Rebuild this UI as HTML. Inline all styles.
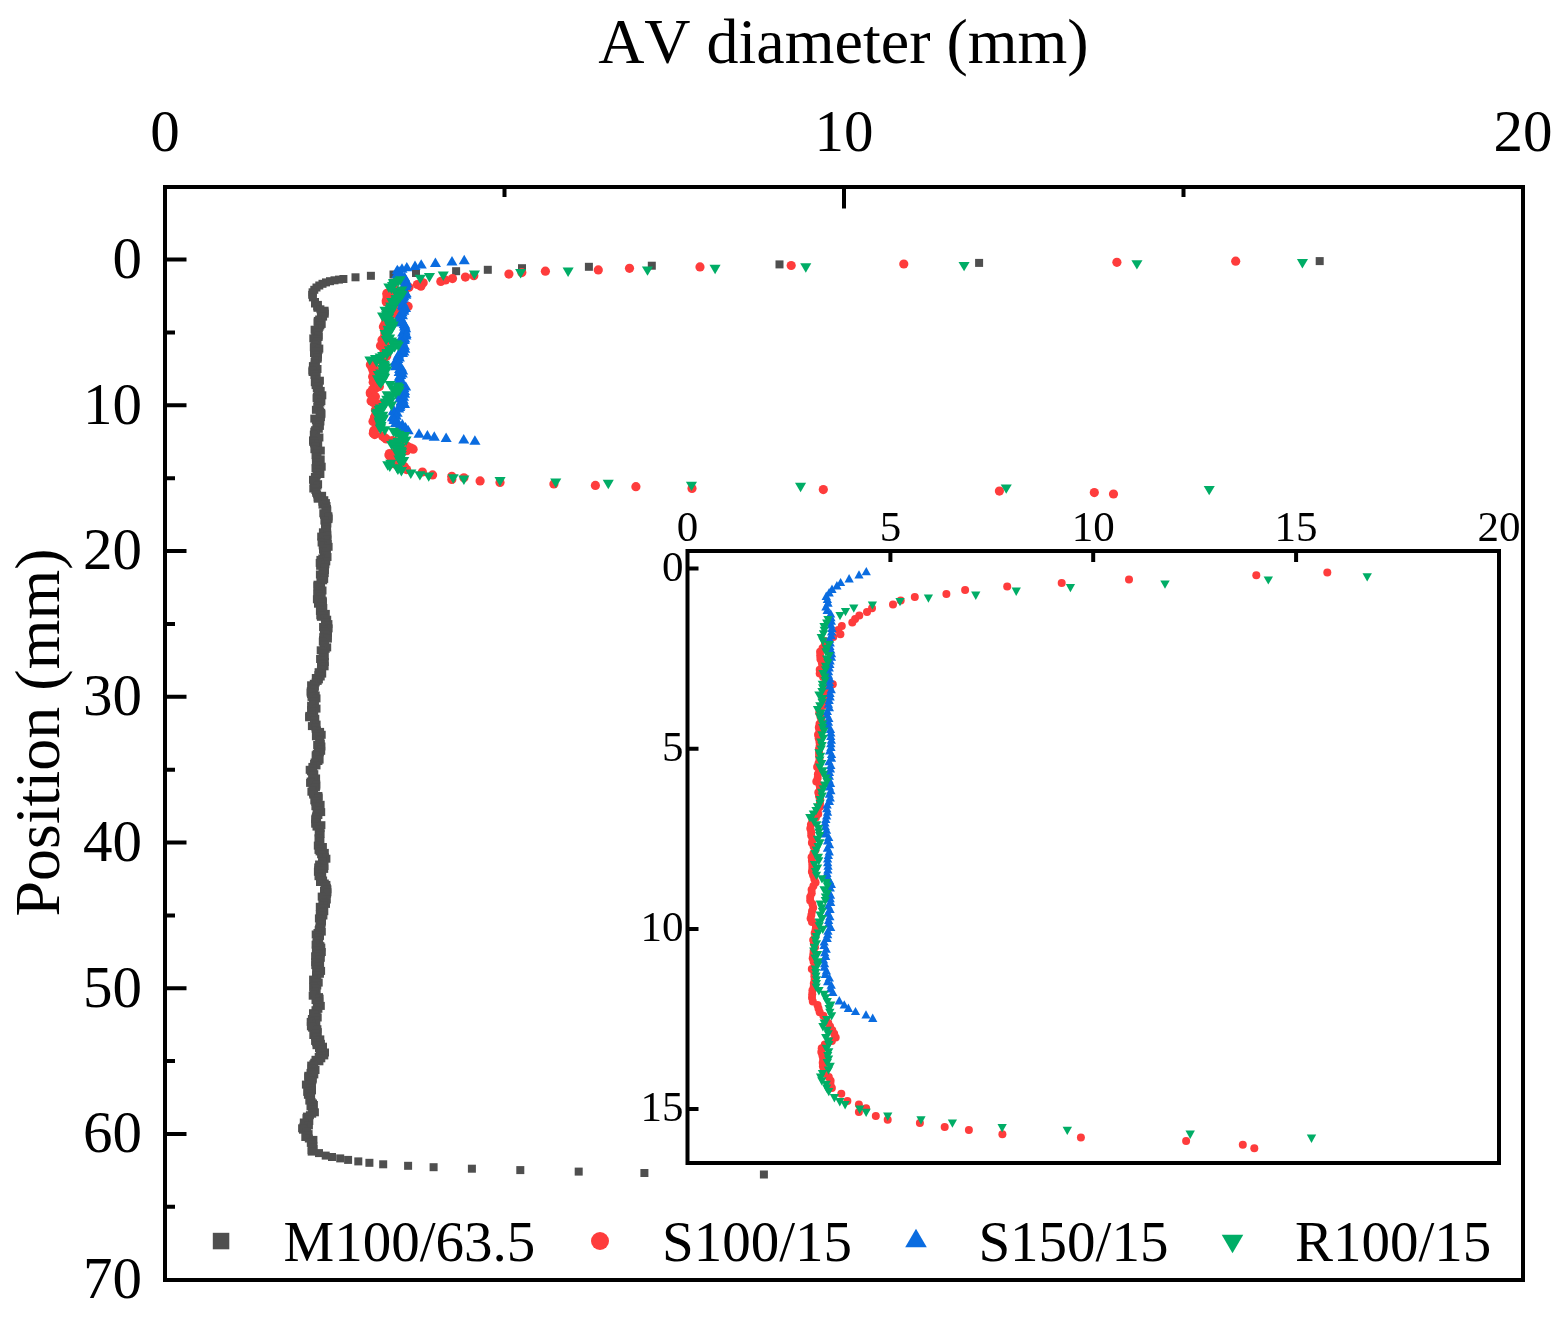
<!DOCTYPE html><html><head><meta charset="utf-8"><style>html,body{margin:0;padding:0;background:#fff;width:1567px;height:1318px;overflow:hidden}</style></head><body><svg width="1567" height="1318" viewBox="0 0 1567 1318" style="display:block">
<rect width="1567" height="1318" fill="#fff"/>
<rect x="165.0" y="187" width="1358.0" height="1093" fill="none" stroke="#000" stroke-width="4"/>
<path d="M504.5 187v10 M844.0 187v21.5 M1183.5 187v10 M165.0 259.6h21.5 M165.0 332.5h10 M165.0 405.3h21.5 M165.0 478.2h10 M165.0 551.1h21.5 M165.0 623.9h10 M165.0 696.8h21.5 M165.0 769.7h10 M165.0 842.5h21.5 M165.0 915.4h10 M165.0 988.2h21.5 M165.0 1061.1h10 M165.0 1134.0h21.5 M165.0 1206.8h10" stroke="#000" stroke-width="4" fill="none"/>
<g style="font-family:'Liberation Serif','Times New Roman',serif;font-kerning:none" font-size="59" fill="#000">
<text x="165.0" y="151" text-anchor="middle">0</text>
<text x="844.0" y="151" text-anchor="middle">10</text>
<text x="1523.0" y="151" text-anchor="middle">20</text>
<text x="142" y="277.8" text-anchor="end">0</text>
<text x="142" y="423.5" text-anchor="end">10</text>
<text x="142" y="569.3" text-anchor="end">20</text>
<text x="142" y="715.0" text-anchor="end">30</text>
<text x="142" y="860.7" text-anchor="end">40</text>
<text x="142" y="1006.5" text-anchor="end">50</text>
<text x="142" y="1152.2" text-anchor="end">60</text>
<text x="142" y="1297.9" text-anchor="end">70</text>
</g>
<text x="843.4" y="63" text-anchor="middle" style="font-family:'Liberation Serif','Times New Roman',serif;font-kerning:none" font-size="64">AV diameter (mm)</text>
<text transform="translate(59 732.5) rotate(-90)" text-anchor="middle" style="font-family:'Liberation Serif','Times New Roman',serif;font-kerning:none" font-size="64">Position (mm)</text>
<g>
<rect x="1315.7" y="257.1" width="8" height="8" fill="#4F4F4F"/>
<rect x="975.1" y="258.9" width="8" height="8" fill="#4F4F4F"/>
<rect x="775.5" y="260.4" width="8" height="8" fill="#4F4F4F"/>
<rect x="647.8" y="261.7" width="8" height="8" fill="#4F4F4F"/>
<rect x="584.9" y="262.8" width="8" height="8" fill="#4F4F4F"/>
<rect x="518.0" y="264.2" width="8" height="8" fill="#4F4F4F"/>
<rect x="483.8" y="265.8" width="8" height="8" fill="#4F4F4F"/>
<rect x="452.1" y="267.2" width="8" height="8" fill="#4F4F4F"/>
<rect x="412.0" y="269.0" width="8" height="8" fill="#4F4F4F"/>
<rect x="389.5" y="270.5" width="8" height="8" fill="#4F4F4F"/>
<rect x="366.9" y="271.8" width="8" height="8" fill="#4F4F4F"/>
<rect x="351.5" y="273.3" width="8" height="8" fill="#4F4F4F"/>
<rect x="339.4" y="275.0" width="8" height="8" fill="#4F4F4F"/>
<rect x="335.0" y="275.6" width="8" height="8" fill="#4F4F4F"/>
<rect x="330.5" y="276.3" width="8" height="8" fill="#4F4F4F"/>
<rect x="326.0" y="277.2" width="8" height="8" fill="#4F4F4F"/>
<rect x="322.0" y="278.4" width="8" height="8" fill="#4F4F4F"/>
<rect x="318.5" y="279.8" width="8" height="8" fill="#4F4F4F"/>
<rect x="315.3" y="281.5" width="8" height="8" fill="#4F4F4F"/>
<rect x="312.5" y="283.5" width="8" height="8" fill="#4F4F4F"/>
<rect x="310.3" y="285.8" width="8" height="8" fill="#4F4F4F"/>
<rect x="308.6" y="288.3" width="8" height="8" fill="#4F4F4F"/>
<rect x="308.2" y="290.8" width="8" height="8" fill="#4F4F4F"/>
<rect x="308.9" y="293.4" width="8" height="8" fill="#4F4F4F"/>
<rect x="311.0" y="298.0" width="8" height="8" fill="#4F4F4F"/>
<rect x="311.0" y="299.5" width="8" height="8" fill="#4F4F4F"/>
<rect x="313.9" y="300.9" width="8" height="8" fill="#4F4F4F"/>
<rect x="313.2" y="302.4" width="8" height="8" fill="#4F4F4F"/>
<rect x="313.5" y="303.8" width="8" height="8" fill="#4F4F4F"/>
<rect x="316.4" y="305.3" width="8" height="8" fill="#4F4F4F"/>
<rect x="320.6" y="306.7" width="8" height="8" fill="#4F4F4F"/>
<rect x="320.4" y="308.2" width="8" height="8" fill="#4F4F4F"/>
<rect x="320.7" y="309.7" width="8" height="8" fill="#4F4F4F"/>
<rect x="317.0" y="311.1" width="8" height="8" fill="#4F4F4F"/>
<rect x="319.1" y="312.6" width="8" height="8" fill="#4F4F4F"/>
<rect x="316.9" y="314.0" width="8" height="8" fill="#4F4F4F"/>
<rect x="315.2" y="315.5" width="8" height="8" fill="#4F4F4F"/>
<rect x="313.8" y="316.9" width="8" height="8" fill="#4F4F4F"/>
<rect x="313.6" y="318.4" width="8" height="8" fill="#4F4F4F"/>
<rect x="317.7" y="319.9" width="8" height="8" fill="#4F4F4F"/>
<rect x="316.4" y="321.3" width="8" height="8" fill="#4F4F4F"/>
<rect x="315.5" y="322.8" width="8" height="8" fill="#4F4F4F"/>
<rect x="314.8" y="324.2" width="8" height="8" fill="#4F4F4F"/>
<rect x="310.6" y="325.7" width="8" height="8" fill="#4F4F4F"/>
<rect x="311.2" y="327.1" width="8" height="8" fill="#4F4F4F"/>
<rect x="313.3" y="328.6" width="8" height="8" fill="#4F4F4F"/>
<rect x="313.8" y="330.1" width="8" height="8" fill="#4F4F4F"/>
<rect x="314.6" y="331.5" width="8" height="8" fill="#4F4F4F"/>
<rect x="314.6" y="333.0" width="8" height="8" fill="#4F4F4F"/>
<rect x="309.3" y="334.4" width="8" height="8" fill="#4F4F4F"/>
<rect x="313.0" y="335.9" width="8" height="8" fill="#4F4F4F"/>
<rect x="313.5" y="337.3" width="8" height="8" fill="#4F4F4F"/>
<rect x="312.5" y="338.8" width="8" height="8" fill="#4F4F4F"/>
<rect x="310.4" y="340.3" width="8" height="8" fill="#4F4F4F"/>
<rect x="312.6" y="341.7" width="8" height="8" fill="#4F4F4F"/>
<rect x="309.8" y="343.2" width="8" height="8" fill="#4F4F4F"/>
<rect x="315.3" y="344.6" width="8" height="8" fill="#4F4F4F"/>
<rect x="314.5" y="346.1" width="8" height="8" fill="#4F4F4F"/>
<rect x="312.0" y="347.5" width="8" height="8" fill="#4F4F4F"/>
<rect x="310.0" y="349.0" width="8" height="8" fill="#4F4F4F"/>
<rect x="314.0" y="350.5" width="8" height="8" fill="#4F4F4F"/>
<rect x="311.7" y="351.9" width="8" height="8" fill="#4F4F4F"/>
<rect x="313.8" y="353.4" width="8" height="8" fill="#4F4F4F"/>
<rect x="313.6" y="354.8" width="8" height="8" fill="#4F4F4F"/>
<rect x="311.3" y="356.3" width="8" height="8" fill="#4F4F4F"/>
<rect x="310.6" y="357.7" width="8" height="8" fill="#4F4F4F"/>
<rect x="311.9" y="359.2" width="8" height="8" fill="#4F4F4F"/>
<rect x="310.7" y="360.7" width="8" height="8" fill="#4F4F4F"/>
<rect x="308.9" y="362.1" width="8" height="8" fill="#4F4F4F"/>
<rect x="309.9" y="363.6" width="8" height="8" fill="#4F4F4F"/>
<rect x="313.5" y="365.0" width="8" height="8" fill="#4F4F4F"/>
<rect x="308.4" y="366.5" width="8" height="8" fill="#4F4F4F"/>
<rect x="308.6" y="368.0" width="8" height="8" fill="#4F4F4F"/>
<rect x="312.6" y="369.4" width="8" height="8" fill="#4F4F4F"/>
<rect x="310.4" y="370.9" width="8" height="8" fill="#4F4F4F"/>
<rect x="312.2" y="372.3" width="8" height="8" fill="#4F4F4F"/>
<rect x="311.9" y="373.8" width="8" height="8" fill="#4F4F4F"/>
<rect x="311.2" y="375.2" width="8" height="8" fill="#4F4F4F"/>
<rect x="315.9" y="376.7" width="8" height="8" fill="#4F4F4F"/>
<rect x="310.8" y="378.2" width="8" height="8" fill="#4F4F4F"/>
<rect x="312.6" y="379.6" width="8" height="8" fill="#4F4F4F"/>
<rect x="311.6" y="381.1" width="8" height="8" fill="#4F4F4F"/>
<rect x="314.9" y="382.5" width="8" height="8" fill="#4F4F4F"/>
<rect x="312.8" y="384.0" width="8" height="8" fill="#4F4F4F"/>
<rect x="313.7" y="385.4" width="8" height="8" fill="#4F4F4F"/>
<rect x="316.7" y="386.9" width="8" height="8" fill="#4F4F4F"/>
<rect x="314.2" y="388.4" width="8" height="8" fill="#4F4F4F"/>
<rect x="316.0" y="389.8" width="8" height="8" fill="#4F4F4F"/>
<rect x="318.3" y="391.3" width="8" height="8" fill="#4F4F4F"/>
<rect x="312.9" y="392.7" width="8" height="8" fill="#4F4F4F"/>
<rect x="312.6" y="394.2" width="8" height="8" fill="#4F4F4F"/>
<rect x="313.8" y="395.6" width="8" height="8" fill="#4F4F4F"/>
<rect x="317.4" y="397.1" width="8" height="8" fill="#4F4F4F"/>
<rect x="316.4" y="398.6" width="8" height="8" fill="#4F4F4F"/>
<rect x="313.8" y="400.0" width="8" height="8" fill="#4F4F4F"/>
<rect x="314.5" y="401.5" width="8" height="8" fill="#4F4F4F"/>
<rect x="313.3" y="402.9" width="8" height="8" fill="#4F4F4F"/>
<rect x="315.0" y="404.4" width="8" height="8" fill="#4F4F4F"/>
<rect x="311.9" y="405.8" width="8" height="8" fill="#4F4F4F"/>
<rect x="316.1" y="407.3" width="8" height="8" fill="#4F4F4F"/>
<rect x="317.2" y="408.8" width="8" height="8" fill="#4F4F4F"/>
<rect x="317.4" y="410.2" width="8" height="8" fill="#4F4F4F"/>
<rect x="315.6" y="411.7" width="8" height="8" fill="#4F4F4F"/>
<rect x="316.9" y="413.1" width="8" height="8" fill="#4F4F4F"/>
<rect x="310.3" y="414.6" width="8" height="8" fill="#4F4F4F"/>
<rect x="311.9" y="416.0" width="8" height="8" fill="#4F4F4F"/>
<rect x="316.4" y="417.5" width="8" height="8" fill="#4F4F4F"/>
<rect x="315.0" y="419.0" width="8" height="8" fill="#4F4F4F"/>
<rect x="312.4" y="420.4" width="8" height="8" fill="#4F4F4F"/>
<rect x="315.9" y="421.9" width="8" height="8" fill="#4F4F4F"/>
<rect x="313.6" y="423.3" width="8" height="8" fill="#4F4F4F"/>
<rect x="314.8" y="424.8" width="8" height="8" fill="#4F4F4F"/>
<rect x="311.1" y="426.2" width="8" height="8" fill="#4F4F4F"/>
<rect x="310.3" y="427.7" width="8" height="8" fill="#4F4F4F"/>
<rect x="311.9" y="429.2" width="8" height="8" fill="#4F4F4F"/>
<rect x="309.8" y="430.6" width="8" height="8" fill="#4F4F4F"/>
<rect x="311.5" y="432.1" width="8" height="8" fill="#4F4F4F"/>
<rect x="315.4" y="433.5" width="8" height="8" fill="#4F4F4F"/>
<rect x="311.2" y="435.0" width="8" height="8" fill="#4F4F4F"/>
<rect x="309.0" y="436.4" width="8" height="8" fill="#4F4F4F"/>
<rect x="309.2" y="437.9" width="8" height="8" fill="#4F4F4F"/>
<rect x="310.1" y="439.4" width="8" height="8" fill="#4F4F4F"/>
<rect x="314.2" y="440.8" width="8" height="8" fill="#4F4F4F"/>
<rect x="311.5" y="442.3" width="8" height="8" fill="#4F4F4F"/>
<rect x="311.4" y="443.7" width="8" height="8" fill="#4F4F4F"/>
<rect x="310.4" y="445.2" width="8" height="8" fill="#4F4F4F"/>
<rect x="316.8" y="446.6" width="8" height="8" fill="#4F4F4F"/>
<rect x="313.4" y="448.1" width="8" height="8" fill="#4F4F4F"/>
<rect x="312.3" y="449.6" width="8" height="8" fill="#4F4F4F"/>
<rect x="311.6" y="451.0" width="8" height="8" fill="#4F4F4F"/>
<rect x="311.9" y="452.5" width="8" height="8" fill="#4F4F4F"/>
<rect x="313.1" y="453.9" width="8" height="8" fill="#4F4F4F"/>
<rect x="316.7" y="455.4" width="8" height="8" fill="#4F4F4F"/>
<rect x="312.9" y="456.8" width="8" height="8" fill="#4F4F4F"/>
<rect x="311.9" y="458.3" width="8" height="8" fill="#4F4F4F"/>
<rect x="314.7" y="459.8" width="8" height="8" fill="#4F4F4F"/>
<rect x="312.9" y="461.2" width="8" height="8" fill="#4F4F4F"/>
<rect x="317.7" y="462.7" width="8" height="8" fill="#4F4F4F"/>
<rect x="311.5" y="464.1" width="8" height="8" fill="#4F4F4F"/>
<rect x="314.0" y="465.6" width="8" height="8" fill="#4F4F4F"/>
<rect x="315.5" y="467.0" width="8" height="8" fill="#4F4F4F"/>
<rect x="312.7" y="468.5" width="8" height="8" fill="#4F4F4F"/>
<rect x="316.4" y="470.0" width="8" height="8" fill="#4F4F4F"/>
<rect x="312.7" y="471.4" width="8" height="8" fill="#4F4F4F"/>
<rect x="310.9" y="472.9" width="8" height="8" fill="#4F4F4F"/>
<rect x="311.8" y="474.3" width="8" height="8" fill="#4F4F4F"/>
<rect x="309.0" y="475.8" width="8" height="8" fill="#4F4F4F"/>
<rect x="311.4" y="477.2" width="8" height="8" fill="#4F4F4F"/>
<rect x="309.9" y="478.7" width="8" height="8" fill="#4F4F4F"/>
<rect x="314.1" y="480.2" width="8" height="8" fill="#4F4F4F"/>
<rect x="313.5" y="481.6" width="8" height="8" fill="#4F4F4F"/>
<rect x="311.9" y="483.1" width="8" height="8" fill="#4F4F4F"/>
<rect x="309.3" y="484.5" width="8" height="8" fill="#4F4F4F"/>
<rect x="311.4" y="486.0" width="8" height="8" fill="#4F4F4F"/>
<rect x="312.0" y="487.4" width="8" height="8" fill="#4F4F4F"/>
<rect x="312.3" y="488.9" width="8" height="8" fill="#4F4F4F"/>
<rect x="313.1" y="490.4" width="8" height="8" fill="#4F4F4F"/>
<rect x="318.1" y="491.8" width="8" height="8" fill="#4F4F4F"/>
<rect x="313.7" y="493.3" width="8" height="8" fill="#4F4F4F"/>
<rect x="313.7" y="494.7" width="8" height="8" fill="#4F4F4F"/>
<rect x="320.3" y="496.2" width="8" height="8" fill="#4F4F4F"/>
<rect x="318.4" y="497.7" width="8" height="8" fill="#4F4F4F"/>
<rect x="321.9" y="499.1" width="8" height="8" fill="#4F4F4F"/>
<rect x="318.5" y="500.6" width="8" height="8" fill="#4F4F4F"/>
<rect x="322.5" y="502.0" width="8" height="8" fill="#4F4F4F"/>
<rect x="321.4" y="503.5" width="8" height="8" fill="#4F4F4F"/>
<rect x="323.0" y="504.9" width="8" height="8" fill="#4F4F4F"/>
<rect x="323.3" y="506.4" width="8" height="8" fill="#4F4F4F"/>
<rect x="322.2" y="507.9" width="8" height="8" fill="#4F4F4F"/>
<rect x="319.3" y="509.3" width="8" height="8" fill="#4F4F4F"/>
<rect x="320.0" y="510.8" width="8" height="8" fill="#4F4F4F"/>
<rect x="324.4" y="512.2" width="8" height="8" fill="#4F4F4F"/>
<rect x="324.4" y="513.7" width="8" height="8" fill="#4F4F4F"/>
<rect x="324.5" y="515.1" width="8" height="8" fill="#4F4F4F"/>
<rect x="320.4" y="516.6" width="8" height="8" fill="#4F4F4F"/>
<rect x="322.4" y="518.1" width="8" height="8" fill="#4F4F4F"/>
<rect x="323.3" y="519.5" width="8" height="8" fill="#4F4F4F"/>
<rect x="322.1" y="521.0" width="8" height="8" fill="#4F4F4F"/>
<rect x="323.1" y="522.4" width="8" height="8" fill="#4F4F4F"/>
<rect x="321.0" y="523.9" width="8" height="8" fill="#4F4F4F"/>
<rect x="321.8" y="525.3" width="8" height="8" fill="#4F4F4F"/>
<rect x="321.9" y="526.8" width="8" height="8" fill="#4F4F4F"/>
<rect x="318.9" y="528.3" width="8" height="8" fill="#4F4F4F"/>
<rect x="323.2" y="529.7" width="8" height="8" fill="#4F4F4F"/>
<rect x="323.3" y="531.2" width="8" height="8" fill="#4F4F4F"/>
<rect x="317.2" y="532.6" width="8" height="8" fill="#4F4F4F"/>
<rect x="323.2" y="534.1" width="8" height="8" fill="#4F4F4F"/>
<rect x="323.4" y="535.5" width="8" height="8" fill="#4F4F4F"/>
<rect x="321.6" y="537.0" width="8" height="8" fill="#4F4F4F"/>
<rect x="317.6" y="538.5" width="8" height="8" fill="#4F4F4F"/>
<rect x="323.7" y="539.9" width="8" height="8" fill="#4F4F4F"/>
<rect x="318.7" y="541.4" width="8" height="8" fill="#4F4F4F"/>
<rect x="324.6" y="542.8" width="8" height="8" fill="#4F4F4F"/>
<rect x="322.8" y="544.3" width="8" height="8" fill="#4F4F4F"/>
<rect x="319.0" y="545.7" width="8" height="8" fill="#4F4F4F"/>
<rect x="319.9" y="547.2" width="8" height="8" fill="#4F4F4F"/>
<rect x="322.7" y="548.7" width="8" height="8" fill="#4F4F4F"/>
<rect x="321.9" y="550.1" width="8" height="8" fill="#4F4F4F"/>
<rect x="322.7" y="551.6" width="8" height="8" fill="#4F4F4F"/>
<rect x="323.5" y="553.0" width="8" height="8" fill="#4F4F4F"/>
<rect x="318.3" y="554.5" width="8" height="8" fill="#4F4F4F"/>
<rect x="316.4" y="555.9" width="8" height="8" fill="#4F4F4F"/>
<rect x="322.3" y="557.4" width="8" height="8" fill="#4F4F4F"/>
<rect x="315.7" y="558.9" width="8" height="8" fill="#4F4F4F"/>
<rect x="321.4" y="560.3" width="8" height="8" fill="#4F4F4F"/>
<rect x="316.1" y="561.8" width="8" height="8" fill="#4F4F4F"/>
<rect x="320.7" y="563.2" width="8" height="8" fill="#4F4F4F"/>
<rect x="320.4" y="564.7" width="8" height="8" fill="#4F4F4F"/>
<rect x="320.9" y="566.1" width="8" height="8" fill="#4F4F4F"/>
<rect x="318.5" y="567.6" width="8" height="8" fill="#4F4F4F"/>
<rect x="320.7" y="569.1" width="8" height="8" fill="#4F4F4F"/>
<rect x="315.9" y="570.5" width="8" height="8" fill="#4F4F4F"/>
<rect x="319.0" y="572.0" width="8" height="8" fill="#4F4F4F"/>
<rect x="316.5" y="573.4" width="8" height="8" fill="#4F4F4F"/>
<rect x="320.2" y="574.9" width="8" height="8" fill="#4F4F4F"/>
<rect x="319.2" y="576.3" width="8" height="8" fill="#4F4F4F"/>
<rect x="316.9" y="577.8" width="8" height="8" fill="#4F4F4F"/>
<rect x="317.1" y="579.3" width="8" height="8" fill="#4F4F4F"/>
<rect x="313.5" y="580.7" width="8" height="8" fill="#4F4F4F"/>
<rect x="313.4" y="582.2" width="8" height="8" fill="#4F4F4F"/>
<rect x="317.0" y="583.6" width="8" height="8" fill="#4F4F4F"/>
<rect x="316.1" y="585.1" width="8" height="8" fill="#4F4F4F"/>
<rect x="318.5" y="586.5" width="8" height="8" fill="#4F4F4F"/>
<rect x="316.6" y="588.0" width="8" height="8" fill="#4F4F4F"/>
<rect x="313.2" y="589.5" width="8" height="8" fill="#4F4F4F"/>
<rect x="314.8" y="590.9" width="8" height="8" fill="#4F4F4F"/>
<rect x="317.7" y="592.4" width="8" height="8" fill="#4F4F4F"/>
<rect x="316.2" y="593.8" width="8" height="8" fill="#4F4F4F"/>
<rect x="312.9" y="595.3" width="8" height="8" fill="#4F4F4F"/>
<rect x="318.7" y="596.7" width="8" height="8" fill="#4F4F4F"/>
<rect x="318.9" y="598.2" width="8" height="8" fill="#4F4F4F"/>
<rect x="314.0" y="599.7" width="8" height="8" fill="#4F4F4F"/>
<rect x="317.3" y="601.1" width="8" height="8" fill="#4F4F4F"/>
<rect x="316.4" y="602.6" width="8" height="8" fill="#4F4F4F"/>
<rect x="319.3" y="604.0" width="8" height="8" fill="#4F4F4F"/>
<rect x="316.3" y="605.5" width="8" height="8" fill="#4F4F4F"/>
<rect x="315.9" y="606.9" width="8" height="8" fill="#4F4F4F"/>
<rect x="318.0" y="608.4" width="8" height="8" fill="#4F4F4F"/>
<rect x="321.8" y="609.9" width="8" height="8" fill="#4F4F4F"/>
<rect x="316.3" y="611.3" width="8" height="8" fill="#4F4F4F"/>
<rect x="316.9" y="612.8" width="8" height="8" fill="#4F4F4F"/>
<rect x="320.9" y="614.2" width="8" height="8" fill="#4F4F4F"/>
<rect x="323.2" y="615.7" width="8" height="8" fill="#4F4F4F"/>
<rect x="321.1" y="617.1" width="8" height="8" fill="#4F4F4F"/>
<rect x="321.1" y="618.6" width="8" height="8" fill="#4F4F4F"/>
<rect x="324.4" y="620.1" width="8" height="8" fill="#4F4F4F"/>
<rect x="324.0" y="621.5" width="8" height="8" fill="#4F4F4F"/>
<rect x="319.1" y="623.0" width="8" height="8" fill="#4F4F4F"/>
<rect x="324.6" y="624.4" width="8" height="8" fill="#4F4F4F"/>
<rect x="319.8" y="625.9" width="8" height="8" fill="#4F4F4F"/>
<rect x="320.4" y="627.3" width="8" height="8" fill="#4F4F4F"/>
<rect x="324.0" y="628.8" width="8" height="8" fill="#4F4F4F"/>
<rect x="321.1" y="630.3" width="8" height="8" fill="#4F4F4F"/>
<rect x="323.5" y="631.7" width="8" height="8" fill="#4F4F4F"/>
<rect x="319.2" y="633.2" width="8" height="8" fill="#4F4F4F"/>
<rect x="323.9" y="634.6" width="8" height="8" fill="#4F4F4F"/>
<rect x="319.0" y="636.1" width="8" height="8" fill="#4F4F4F"/>
<rect x="318.8" y="637.6" width="8" height="8" fill="#4F4F4F"/>
<rect x="321.0" y="639.0" width="8" height="8" fill="#4F4F4F"/>
<rect x="319.7" y="640.5" width="8" height="8" fill="#4F4F4F"/>
<rect x="320.9" y="641.9" width="8" height="8" fill="#4F4F4F"/>
<rect x="323.2" y="643.4" width="8" height="8" fill="#4F4F4F"/>
<rect x="321.7" y="644.8" width="8" height="8" fill="#4F4F4F"/>
<rect x="316.7" y="646.3" width="8" height="8" fill="#4F4F4F"/>
<rect x="318.6" y="647.8" width="8" height="8" fill="#4F4F4F"/>
<rect x="320.0" y="649.2" width="8" height="8" fill="#4F4F4F"/>
<rect x="319.5" y="650.7" width="8" height="8" fill="#4F4F4F"/>
<rect x="320.8" y="652.1" width="8" height="8" fill="#4F4F4F"/>
<rect x="319.1" y="653.6" width="8" height="8" fill="#4F4F4F"/>
<rect x="316.1" y="655.0" width="8" height="8" fill="#4F4F4F"/>
<rect x="317.0" y="656.5" width="8" height="8" fill="#4F4F4F"/>
<rect x="320.8" y="658.0" width="8" height="8" fill="#4F4F4F"/>
<rect x="317.0" y="659.4" width="8" height="8" fill="#4F4F4F"/>
<rect x="319.5" y="660.9" width="8" height="8" fill="#4F4F4F"/>
<rect x="320.6" y="662.3" width="8" height="8" fill="#4F4F4F"/>
<rect x="317.8" y="663.8" width="8" height="8" fill="#4F4F4F"/>
<rect x="317.8" y="665.2" width="8" height="8" fill="#4F4F4F"/>
<rect x="316.9" y="666.7" width="8" height="8" fill="#4F4F4F"/>
<rect x="314.6" y="668.2" width="8" height="8" fill="#4F4F4F"/>
<rect x="318.2" y="669.6" width="8" height="8" fill="#4F4F4F"/>
<rect x="314.4" y="671.1" width="8" height="8" fill="#4F4F4F"/>
<rect x="316.7" y="672.5" width="8" height="8" fill="#4F4F4F"/>
<rect x="311.8" y="674.0" width="8" height="8" fill="#4F4F4F"/>
<rect x="314.9" y="675.4" width="8" height="8" fill="#4F4F4F"/>
<rect x="313.7" y="676.9" width="8" height="8" fill="#4F4F4F"/>
<rect x="311.7" y="678.4" width="8" height="8" fill="#4F4F4F"/>
<rect x="309.8" y="679.8" width="8" height="8" fill="#4F4F4F"/>
<rect x="307.1" y="681.3" width="8" height="8" fill="#4F4F4F"/>
<rect x="310.9" y="682.7" width="8" height="8" fill="#4F4F4F"/>
<rect x="308.2" y="684.2" width="8" height="8" fill="#4F4F4F"/>
<rect x="310.3" y="685.6" width="8" height="8" fill="#4F4F4F"/>
<rect x="306.8" y="687.1" width="8" height="8" fill="#4F4F4F"/>
<rect x="306.6" y="688.6" width="8" height="8" fill="#4F4F4F"/>
<rect x="307.1" y="690.0" width="8" height="8" fill="#4F4F4F"/>
<rect x="311.7" y="691.5" width="8" height="8" fill="#4F4F4F"/>
<rect x="307.5" y="692.9" width="8" height="8" fill="#4F4F4F"/>
<rect x="312.5" y="694.4" width="8" height="8" fill="#4F4F4F"/>
<rect x="309.0" y="695.8" width="8" height="8" fill="#4F4F4F"/>
<rect x="310.5" y="697.3" width="8" height="8" fill="#4F4F4F"/>
<rect x="309.0" y="698.8" width="8" height="8" fill="#4F4F4F"/>
<rect x="310.9" y="700.2" width="8" height="8" fill="#4F4F4F"/>
<rect x="307.1" y="701.7" width="8" height="8" fill="#4F4F4F"/>
<rect x="309.0" y="703.1" width="8" height="8" fill="#4F4F4F"/>
<rect x="312.5" y="704.6" width="8" height="8" fill="#4F4F4F"/>
<rect x="307.1" y="706.0" width="8" height="8" fill="#4F4F4F"/>
<rect x="310.2" y="707.5" width="8" height="8" fill="#4F4F4F"/>
<rect x="307.8" y="709.0" width="8" height="8" fill="#4F4F4F"/>
<rect x="307.4" y="710.4" width="8" height="8" fill="#4F4F4F"/>
<rect x="305.3" y="711.9" width="8" height="8" fill="#4F4F4F"/>
<rect x="305.1" y="713.3" width="8" height="8" fill="#4F4F4F"/>
<rect x="311.3" y="714.8" width="8" height="8" fill="#4F4F4F"/>
<rect x="310.3" y="716.2" width="8" height="8" fill="#4F4F4F"/>
<rect x="310.1" y="717.7" width="8" height="8" fill="#4F4F4F"/>
<rect x="310.9" y="719.2" width="8" height="8" fill="#4F4F4F"/>
<rect x="312.6" y="720.6" width="8" height="8" fill="#4F4F4F"/>
<rect x="307.9" y="722.1" width="8" height="8" fill="#4F4F4F"/>
<rect x="311.5" y="723.5" width="8" height="8" fill="#4F4F4F"/>
<rect x="311.7" y="725.0" width="8" height="8" fill="#4F4F4F"/>
<rect x="312.9" y="726.4" width="8" height="8" fill="#4F4F4F"/>
<rect x="316.1" y="727.9" width="8" height="8" fill="#4F4F4F"/>
<rect x="315.7" y="729.4" width="8" height="8" fill="#4F4F4F"/>
<rect x="317.7" y="730.8" width="8" height="8" fill="#4F4F4F"/>
<rect x="311.9" y="732.3" width="8" height="8" fill="#4F4F4F"/>
<rect x="315.5" y="733.7" width="8" height="8" fill="#4F4F4F"/>
<rect x="315.7" y="735.2" width="8" height="8" fill="#4F4F4F"/>
<rect x="316.2" y="736.6" width="8" height="8" fill="#4F4F4F"/>
<rect x="315.3" y="738.1" width="8" height="8" fill="#4F4F4F"/>
<rect x="316.8" y="739.6" width="8" height="8" fill="#4F4F4F"/>
<rect x="313.2" y="741.0" width="8" height="8" fill="#4F4F4F"/>
<rect x="317.4" y="742.5" width="8" height="8" fill="#4F4F4F"/>
<rect x="313.9" y="743.9" width="8" height="8" fill="#4F4F4F"/>
<rect x="315.2" y="745.4" width="8" height="8" fill="#4F4F4F"/>
<rect x="317.2" y="746.8" width="8" height="8" fill="#4F4F4F"/>
<rect x="315.9" y="748.3" width="8" height="8" fill="#4F4F4F"/>
<rect x="312.7" y="749.8" width="8" height="8" fill="#4F4F4F"/>
<rect x="311.7" y="751.2" width="8" height="8" fill="#4F4F4F"/>
<rect x="311.9" y="752.7" width="8" height="8" fill="#4F4F4F"/>
<rect x="313.5" y="754.1" width="8" height="8" fill="#4F4F4F"/>
<rect x="315.6" y="755.6" width="8" height="8" fill="#4F4F4F"/>
<rect x="314.4" y="757.0" width="8" height="8" fill="#4F4F4F"/>
<rect x="310.6" y="758.5" width="8" height="8" fill="#4F4F4F"/>
<rect x="310.1" y="760.0" width="8" height="8" fill="#4F4F4F"/>
<rect x="312.5" y="761.4" width="8" height="8" fill="#4F4F4F"/>
<rect x="308.4" y="762.9" width="8" height="8" fill="#4F4F4F"/>
<rect x="308.9" y="764.3" width="8" height="8" fill="#4F4F4F"/>
<rect x="305.7" y="765.8" width="8" height="8" fill="#4F4F4F"/>
<rect x="306.9" y="767.3" width="8" height="8" fill="#4F4F4F"/>
<rect x="309.3" y="768.7" width="8" height="8" fill="#4F4F4F"/>
<rect x="310.3" y="770.2" width="8" height="8" fill="#4F4F4F"/>
<rect x="309.8" y="771.6" width="8" height="8" fill="#4F4F4F"/>
<rect x="308.1" y="773.1" width="8" height="8" fill="#4F4F4F"/>
<rect x="312.1" y="774.5" width="8" height="8" fill="#4F4F4F"/>
<rect x="309.8" y="776.0" width="8" height="8" fill="#4F4F4F"/>
<rect x="306.7" y="777.5" width="8" height="8" fill="#4F4F4F"/>
<rect x="306.1" y="778.9" width="8" height="8" fill="#4F4F4F"/>
<rect x="312.2" y="780.4" width="8" height="8" fill="#4F4F4F"/>
<rect x="312.3" y="781.8" width="8" height="8" fill="#4F4F4F"/>
<rect x="311.9" y="783.3" width="8" height="8" fill="#4F4F4F"/>
<rect x="310.1" y="784.7" width="8" height="8" fill="#4F4F4F"/>
<rect x="308.5" y="786.2" width="8" height="8" fill="#4F4F4F"/>
<rect x="307.4" y="787.7" width="8" height="8" fill="#4F4F4F"/>
<rect x="309.0" y="789.1" width="8" height="8" fill="#4F4F4F"/>
<rect x="309.2" y="790.6" width="8" height="8" fill="#4F4F4F"/>
<rect x="314.4" y="792.0" width="8" height="8" fill="#4F4F4F"/>
<rect x="314.6" y="793.5" width="8" height="8" fill="#4F4F4F"/>
<rect x="314.2" y="794.9" width="8" height="8" fill="#4F4F4F"/>
<rect x="310.3" y="796.4" width="8" height="8" fill="#4F4F4F"/>
<rect x="311.4" y="797.9" width="8" height="8" fill="#4F4F4F"/>
<rect x="312.1" y="799.3" width="8" height="8" fill="#4F4F4F"/>
<rect x="316.6" y="800.8" width="8" height="8" fill="#4F4F4F"/>
<rect x="311.4" y="802.2" width="8" height="8" fill="#4F4F4F"/>
<rect x="315.7" y="803.7" width="8" height="8" fill="#4F4F4F"/>
<rect x="315.1" y="805.1" width="8" height="8" fill="#4F4F4F"/>
<rect x="314.3" y="806.6" width="8" height="8" fill="#4F4F4F"/>
<rect x="317.2" y="808.1" width="8" height="8" fill="#4F4F4F"/>
<rect x="312.6" y="809.5" width="8" height="8" fill="#4F4F4F"/>
<rect x="314.4" y="811.0" width="8" height="8" fill="#4F4F4F"/>
<rect x="312.1" y="812.4" width="8" height="8" fill="#4F4F4F"/>
<rect x="311.7" y="813.9" width="8" height="8" fill="#4F4F4F"/>
<rect x="311.2" y="815.3" width="8" height="8" fill="#4F4F4F"/>
<rect x="313.1" y="816.8" width="8" height="8" fill="#4F4F4F"/>
<rect x="311.7" y="818.3" width="8" height="8" fill="#4F4F4F"/>
<rect x="311.2" y="819.7" width="8" height="8" fill="#4F4F4F"/>
<rect x="317.4" y="821.2" width="8" height="8" fill="#4F4F4F"/>
<rect x="312.5" y="822.6" width="8" height="8" fill="#4F4F4F"/>
<rect x="316.5" y="824.1" width="8" height="8" fill="#4F4F4F"/>
<rect x="315.2" y="825.5" width="8" height="8" fill="#4F4F4F"/>
<rect x="315.3" y="827.0" width="8" height="8" fill="#4F4F4F"/>
<rect x="314.7" y="828.5" width="8" height="8" fill="#4F4F4F"/>
<rect x="316.6" y="829.9" width="8" height="8" fill="#4F4F4F"/>
<rect x="316.0" y="831.4" width="8" height="8" fill="#4F4F4F"/>
<rect x="315.2" y="832.8" width="8" height="8" fill="#4F4F4F"/>
<rect x="314.5" y="834.3" width="8" height="8" fill="#4F4F4F"/>
<rect x="315.8" y="835.7" width="8" height="8" fill="#4F4F4F"/>
<rect x="316.4" y="837.2" width="8" height="8" fill="#4F4F4F"/>
<rect x="315.7" y="838.7" width="8" height="8" fill="#4F4F4F"/>
<rect x="315.8" y="840.1" width="8" height="8" fill="#4F4F4F"/>
<rect x="313.8" y="841.6" width="8" height="8" fill="#4F4F4F"/>
<rect x="318.9" y="843.0" width="8" height="8" fill="#4F4F4F"/>
<rect x="316.9" y="844.5" width="8" height="8" fill="#4F4F4F"/>
<rect x="314.5" y="845.9" width="8" height="8" fill="#4F4F4F"/>
<rect x="315.6" y="847.4" width="8" height="8" fill="#4F4F4F"/>
<rect x="320.8" y="848.9" width="8" height="8" fill="#4F4F4F"/>
<rect x="317.1" y="850.3" width="8" height="8" fill="#4F4F4F"/>
<rect x="318.4" y="851.8" width="8" height="8" fill="#4F4F4F"/>
<rect x="320.8" y="853.2" width="8" height="8" fill="#4F4F4F"/>
<rect x="322.4" y="854.7" width="8" height="8" fill="#4F4F4F"/>
<rect x="318.4" y="856.1" width="8" height="8" fill="#4F4F4F"/>
<rect x="318.4" y="857.6" width="8" height="8" fill="#4F4F4F"/>
<rect x="318.2" y="859.1" width="8" height="8" fill="#4F4F4F"/>
<rect x="315.1" y="860.5" width="8" height="8" fill="#4F4F4F"/>
<rect x="320.5" y="862.0" width="8" height="8" fill="#4F4F4F"/>
<rect x="314.2" y="863.4" width="8" height="8" fill="#4F4F4F"/>
<rect x="320.2" y="864.9" width="8" height="8" fill="#4F4F4F"/>
<rect x="314.3" y="866.3" width="8" height="8" fill="#4F4F4F"/>
<rect x="313.9" y="867.8" width="8" height="8" fill="#4F4F4F"/>
<rect x="318.2" y="869.3" width="8" height="8" fill="#4F4F4F"/>
<rect x="318.0" y="870.7" width="8" height="8" fill="#4F4F4F"/>
<rect x="314.5" y="872.2" width="8" height="8" fill="#4F4F4F"/>
<rect x="317.1" y="873.6" width="8" height="8" fill="#4F4F4F"/>
<rect x="317.0" y="875.1" width="8" height="8" fill="#4F4F4F"/>
<rect x="319.1" y="876.5" width="8" height="8" fill="#4F4F4F"/>
<rect x="316.0" y="878.0" width="8" height="8" fill="#4F4F4F"/>
<rect x="320.8" y="879.5" width="8" height="8" fill="#4F4F4F"/>
<rect x="322.4" y="880.9" width="8" height="8" fill="#4F4F4F"/>
<rect x="320.9" y="882.4" width="8" height="8" fill="#4F4F4F"/>
<rect x="322.8" y="883.8" width="8" height="8" fill="#4F4F4F"/>
<rect x="323.4" y="885.3" width="8" height="8" fill="#4F4F4F"/>
<rect x="320.0" y="886.7" width="8" height="8" fill="#4F4F4F"/>
<rect x="323.4" y="888.2" width="8" height="8" fill="#4F4F4F"/>
<rect x="323.1" y="889.7" width="8" height="8" fill="#4F4F4F"/>
<rect x="321.2" y="891.1" width="8" height="8" fill="#4F4F4F"/>
<rect x="317.7" y="892.6" width="8" height="8" fill="#4F4F4F"/>
<rect x="321.0" y="894.0" width="8" height="8" fill="#4F4F4F"/>
<rect x="322.8" y="895.5" width="8" height="8" fill="#4F4F4F"/>
<rect x="318.4" y="897.0" width="8" height="8" fill="#4F4F4F"/>
<rect x="320.5" y="898.4" width="8" height="8" fill="#4F4F4F"/>
<rect x="322.0" y="899.9" width="8" height="8" fill="#4F4F4F"/>
<rect x="319.8" y="901.3" width="8" height="8" fill="#4F4F4F"/>
<rect x="315.8" y="902.8" width="8" height="8" fill="#4F4F4F"/>
<rect x="319.5" y="904.2" width="8" height="8" fill="#4F4F4F"/>
<rect x="316.5" y="905.7" width="8" height="8" fill="#4F4F4F"/>
<rect x="320.3" y="907.2" width="8" height="8" fill="#4F4F4F"/>
<rect x="318.6" y="908.6" width="8" height="8" fill="#4F4F4F"/>
<rect x="315.8" y="910.1" width="8" height="8" fill="#4F4F4F"/>
<rect x="319.4" y="911.5" width="8" height="8" fill="#4F4F4F"/>
<rect x="317.2" y="913.0" width="8" height="8" fill="#4F4F4F"/>
<rect x="314.9" y="914.4" width="8" height="8" fill="#4F4F4F"/>
<rect x="317.9" y="915.9" width="8" height="8" fill="#4F4F4F"/>
<rect x="317.9" y="917.4" width="8" height="8" fill="#4F4F4F"/>
<rect x="317.6" y="918.8" width="8" height="8" fill="#4F4F4F"/>
<rect x="317.2" y="920.3" width="8" height="8" fill="#4F4F4F"/>
<rect x="315.6" y="921.7" width="8" height="8" fill="#4F4F4F"/>
<rect x="315.9" y="923.2" width="8" height="8" fill="#4F4F4F"/>
<rect x="315.2" y="924.6" width="8" height="8" fill="#4F4F4F"/>
<rect x="314.7" y="926.1" width="8" height="8" fill="#4F4F4F"/>
<rect x="317.8" y="927.6" width="8" height="8" fill="#4F4F4F"/>
<rect x="313.5" y="929.0" width="8" height="8" fill="#4F4F4F"/>
<rect x="311.7" y="930.5" width="8" height="8" fill="#4F4F4F"/>
<rect x="316.0" y="931.9" width="8" height="8" fill="#4F4F4F"/>
<rect x="314.5" y="933.4" width="8" height="8" fill="#4F4F4F"/>
<rect x="314.8" y="934.8" width="8" height="8" fill="#4F4F4F"/>
<rect x="315.2" y="936.3" width="8" height="8" fill="#4F4F4F"/>
<rect x="312.8" y="937.8" width="8" height="8" fill="#4F4F4F"/>
<rect x="312.5" y="939.2" width="8" height="8" fill="#4F4F4F"/>
<rect x="311.6" y="940.7" width="8" height="8" fill="#4F4F4F"/>
<rect x="316.4" y="942.1" width="8" height="8" fill="#4F4F4F"/>
<rect x="317.3" y="943.6" width="8" height="8" fill="#4F4F4F"/>
<rect x="315.8" y="945.0" width="8" height="8" fill="#4F4F4F"/>
<rect x="311.9" y="946.5" width="8" height="8" fill="#4F4F4F"/>
<rect x="317.8" y="948.0" width="8" height="8" fill="#4F4F4F"/>
<rect x="316.7" y="949.4" width="8" height="8" fill="#4F4F4F"/>
<rect x="314.6" y="950.9" width="8" height="8" fill="#4F4F4F"/>
<rect x="311.1" y="952.3" width="8" height="8" fill="#4F4F4F"/>
<rect x="316.8" y="953.8" width="8" height="8" fill="#4F4F4F"/>
<rect x="315.3" y="955.2" width="8" height="8" fill="#4F4F4F"/>
<rect x="315.3" y="956.7" width="8" height="8" fill="#4F4F4F"/>
<rect x="311.2" y="958.2" width="8" height="8" fill="#4F4F4F"/>
<rect x="316.1" y="959.6" width="8" height="8" fill="#4F4F4F"/>
<rect x="311.3" y="961.1" width="8" height="8" fill="#4F4F4F"/>
<rect x="314.4" y="962.5" width="8" height="8" fill="#4F4F4F"/>
<rect x="312.1" y="964.0" width="8" height="8" fill="#4F4F4F"/>
<rect x="313.5" y="965.4" width="8" height="8" fill="#4F4F4F"/>
<rect x="317.1" y="966.9" width="8" height="8" fill="#4F4F4F"/>
<rect x="315.8" y="968.4" width="8" height="8" fill="#4F4F4F"/>
<rect x="315.9" y="969.8" width="8" height="8" fill="#4F4F4F"/>
<rect x="312.0" y="971.3" width="8" height="8" fill="#4F4F4F"/>
<rect x="312.2" y="972.7" width="8" height="8" fill="#4F4F4F"/>
<rect x="313.3" y="974.2" width="8" height="8" fill="#4F4F4F"/>
<rect x="309.1" y="975.6" width="8" height="8" fill="#4F4F4F"/>
<rect x="311.3" y="977.1" width="8" height="8" fill="#4F4F4F"/>
<rect x="314.7" y="978.6" width="8" height="8" fill="#4F4F4F"/>
<rect x="312.9" y="980.0" width="8" height="8" fill="#4F4F4F"/>
<rect x="313.3" y="981.5" width="8" height="8" fill="#4F4F4F"/>
<rect x="309.1" y="982.9" width="8" height="8" fill="#4F4F4F"/>
<rect x="311.4" y="984.4" width="8" height="8" fill="#4F4F4F"/>
<rect x="312.5" y="985.8" width="8" height="8" fill="#4F4F4F"/>
<rect x="312.3" y="987.3" width="8" height="8" fill="#4F4F4F"/>
<rect x="310.8" y="988.8" width="8" height="8" fill="#4F4F4F"/>
<rect x="309.4" y="990.2" width="8" height="8" fill="#4F4F4F"/>
<rect x="308.7" y="991.7" width="8" height="8" fill="#4F4F4F"/>
<rect x="315.0" y="993.1" width="8" height="8" fill="#4F4F4F"/>
<rect x="315.6" y="994.6" width="8" height="8" fill="#4F4F4F"/>
<rect x="311.5" y="996.0" width="8" height="8" fill="#4F4F4F"/>
<rect x="315.2" y="997.5" width="8" height="8" fill="#4F4F4F"/>
<rect x="313.2" y="999.0" width="8" height="8" fill="#4F4F4F"/>
<rect x="315.0" y="1000.4" width="8" height="8" fill="#4F4F4F"/>
<rect x="316.8" y="1001.9" width="8" height="8" fill="#4F4F4F"/>
<rect x="312.8" y="1003.3" width="8" height="8" fill="#4F4F4F"/>
<rect x="314.4" y="1004.8" width="8" height="8" fill="#4F4F4F"/>
<rect x="311.5" y="1006.2" width="8" height="8" fill="#4F4F4F"/>
<rect x="312.7" y="1007.7" width="8" height="8" fill="#4F4F4F"/>
<rect x="309.0" y="1009.2" width="8" height="8" fill="#4F4F4F"/>
<rect x="310.1" y="1010.6" width="8" height="8" fill="#4F4F4F"/>
<rect x="309.8" y="1012.1" width="8" height="8" fill="#4F4F4F"/>
<rect x="313.7" y="1013.5" width="8" height="8" fill="#4F4F4F"/>
<rect x="307.9" y="1015.0" width="8" height="8" fill="#4F4F4F"/>
<rect x="311.7" y="1016.4" width="8" height="8" fill="#4F4F4F"/>
<rect x="306.7" y="1017.9" width="8" height="8" fill="#4F4F4F"/>
<rect x="312.3" y="1019.4" width="8" height="8" fill="#4F4F4F"/>
<rect x="307.1" y="1020.8" width="8" height="8" fill="#4F4F4F"/>
<rect x="306.9" y="1022.3" width="8" height="8" fill="#4F4F4F"/>
<rect x="308.1" y="1023.7" width="8" height="8" fill="#4F4F4F"/>
<rect x="313.4" y="1025.2" width="8" height="8" fill="#4F4F4F"/>
<rect x="312.0" y="1026.7" width="8" height="8" fill="#4F4F4F"/>
<rect x="313.8" y="1028.1" width="8" height="8" fill="#4F4F4F"/>
<rect x="311.5" y="1029.6" width="8" height="8" fill="#4F4F4F"/>
<rect x="309.3" y="1031.0" width="8" height="8" fill="#4F4F4F"/>
<rect x="311.2" y="1032.5" width="8" height="8" fill="#4F4F4F"/>
<rect x="312.3" y="1033.9" width="8" height="8" fill="#4F4F4F"/>
<rect x="316.3" y="1035.4" width="8" height="8" fill="#4F4F4F"/>
<rect x="311.1" y="1036.9" width="8" height="8" fill="#4F4F4F"/>
<rect x="312.2" y="1038.3" width="8" height="8" fill="#4F4F4F"/>
<rect x="316.9" y="1039.8" width="8" height="8" fill="#4F4F4F"/>
<rect x="312.5" y="1041.2" width="8" height="8" fill="#4F4F4F"/>
<rect x="319.0" y="1042.7" width="8" height="8" fill="#4F4F4F"/>
<rect x="315.0" y="1044.1" width="8" height="8" fill="#4F4F4F"/>
<rect x="317.4" y="1045.6" width="8" height="8" fill="#4F4F4F"/>
<rect x="318.7" y="1047.1" width="8" height="8" fill="#4F4F4F"/>
<rect x="321.0" y="1048.5" width="8" height="8" fill="#4F4F4F"/>
<rect x="315.9" y="1050.0" width="8" height="8" fill="#4F4F4F"/>
<rect x="320.3" y="1051.4" width="8" height="8" fill="#4F4F4F"/>
<rect x="314.7" y="1052.9" width="8" height="8" fill="#4F4F4F"/>
<rect x="317.3" y="1054.3" width="8" height="8" fill="#4F4F4F"/>
<rect x="311.5" y="1055.8" width="8" height="8" fill="#4F4F4F"/>
<rect x="315.4" y="1057.3" width="8" height="8" fill="#4F4F4F"/>
<rect x="310.3" y="1058.7" width="8" height="8" fill="#4F4F4F"/>
<rect x="309.4" y="1060.2" width="8" height="8" fill="#4F4F4F"/>
<rect x="307.2" y="1061.6" width="8" height="8" fill="#4F4F4F"/>
<rect x="308.0" y="1063.1" width="8" height="8" fill="#4F4F4F"/>
<rect x="307.5" y="1064.5" width="8" height="8" fill="#4F4F4F"/>
<rect x="311.5" y="1066.0" width="8" height="8" fill="#4F4F4F"/>
<rect x="308.6" y="1067.5" width="8" height="8" fill="#4F4F4F"/>
<rect x="306.5" y="1068.9" width="8" height="8" fill="#4F4F4F"/>
<rect x="310.3" y="1070.4" width="8" height="8" fill="#4F4F4F"/>
<rect x="304.3" y="1071.8" width="8" height="8" fill="#4F4F4F"/>
<rect x="304.2" y="1073.3" width="8" height="8" fill="#4F4F4F"/>
<rect x="308.8" y="1074.7" width="8" height="8" fill="#4F4F4F"/>
<rect x="308.4" y="1076.2" width="8" height="8" fill="#4F4F4F"/>
<rect x="306.2" y="1077.7" width="8" height="8" fill="#4F4F4F"/>
<rect x="307.9" y="1079.1" width="8" height="8" fill="#4F4F4F"/>
<rect x="301.9" y="1080.6" width="8" height="8" fill="#4F4F4F"/>
<rect x="307.8" y="1082.0" width="8" height="8" fill="#4F4F4F"/>
<rect x="306.7" y="1083.5" width="8" height="8" fill="#4F4F4F"/>
<rect x="306.6" y="1084.9" width="8" height="8" fill="#4F4F4F"/>
<rect x="308.0" y="1086.4" width="8" height="8" fill="#4F4F4F"/>
<rect x="303.2" y="1087.9" width="8" height="8" fill="#4F4F4F"/>
<rect x="304.1" y="1089.3" width="8" height="8" fill="#4F4F4F"/>
<rect x="303.9" y="1090.8" width="8" height="8" fill="#4F4F4F"/>
<rect x="306.4" y="1092.2" width="8" height="8" fill="#4F4F4F"/>
<rect x="307.1" y="1093.7" width="8" height="8" fill="#4F4F4F"/>
<rect x="306.8" y="1095.1" width="8" height="8" fill="#4F4F4F"/>
<rect x="305.3" y="1096.6" width="8" height="8" fill="#4F4F4F"/>
<rect x="307.6" y="1098.1" width="8" height="8" fill="#4F4F4F"/>
<rect x="309.0" y="1099.5" width="8" height="8" fill="#4F4F4F"/>
<rect x="309.9" y="1101.0" width="8" height="8" fill="#4F4F4F"/>
<rect x="306.5" y="1102.4" width="8" height="8" fill="#4F4F4F"/>
<rect x="308.5" y="1103.9" width="8" height="8" fill="#4F4F4F"/>
<rect x="308.8" y="1105.3" width="8" height="8" fill="#4F4F4F"/>
<rect x="308.8" y="1106.8" width="8" height="8" fill="#4F4F4F"/>
<rect x="310.9" y="1108.3" width="8" height="8" fill="#4F4F4F"/>
<rect x="308.2" y="1109.7" width="8" height="8" fill="#4F4F4F"/>
<rect x="305.9" y="1111.2" width="8" height="8" fill="#4F4F4F"/>
<rect x="302.9" y="1112.6" width="8" height="8" fill="#4F4F4F"/>
<rect x="302.5" y="1114.1" width="8" height="8" fill="#4F4F4F"/>
<rect x="304.3" y="1115.5" width="8" height="8" fill="#4F4F4F"/>
<rect x="305.3" y="1117.0" width="8" height="8" fill="#4F4F4F"/>
<rect x="299.8" y="1118.5" width="8" height="8" fill="#4F4F4F"/>
<rect x="300.7" y="1119.9" width="8" height="8" fill="#4F4F4F"/>
<rect x="304.9" y="1121.4" width="8" height="8" fill="#4F4F4F"/>
<rect x="299.5" y="1122.8" width="8" height="8" fill="#4F4F4F"/>
<rect x="298.1" y="1124.3" width="8" height="8" fill="#4F4F4F"/>
<rect x="299.0" y="1125.7" width="8" height="8" fill="#4F4F4F"/>
<rect x="303.1" y="1127.2" width="8" height="8" fill="#4F4F4F"/>
<rect x="302.3" y="1128.7" width="8" height="8" fill="#4F4F4F"/>
<rect x="304.6" y="1130.1" width="8" height="8" fill="#4F4F4F"/>
<rect x="303.0" y="1131.6" width="8" height="8" fill="#4F4F4F"/>
<rect x="301.3" y="1133.0" width="8" height="8" fill="#4F4F4F"/>
<rect x="304.8" y="1134.5" width="8" height="8" fill="#4F4F4F"/>
<rect x="309.4" y="1135.9" width="8" height="8" fill="#4F4F4F"/>
<rect x="308.3" y="1137.4" width="8" height="8" fill="#4F4F4F"/>
<rect x="306.8" y="1138.9" width="8" height="8" fill="#4F4F4F"/>
<rect x="308.6" y="1140.3" width="8" height="8" fill="#4F4F4F"/>
<rect x="309.3" y="1141.8" width="8" height="8" fill="#4F4F4F"/>
<rect x="308.8" y="1143.2" width="8" height="8" fill="#4F4F4F"/>
<rect x="309.6" y="1144.7" width="8" height="8" fill="#4F4F4F"/>
<rect x="307.6" y="1146.1" width="8" height="8" fill="#4F4F4F"/>
<rect x="307.7" y="1147.6" width="8" height="8" fill="#4F4F4F"/>
<rect x="315.0" y="1149.1" width="8" height="8" fill="#4F4F4F"/>
<rect x="321.7" y="1151.6" width="8" height="8" fill="#4F4F4F"/>
<rect x="328.0" y="1153.0" width="8" height="8" fill="#4F4F4F"/>
<rect x="336.2" y="1154.4" width="8" height="8" fill="#4F4F4F"/>
<rect x="344.1" y="1155.9" width="8" height="8" fill="#4F4F4F"/>
<rect x="354.3" y="1157.4" width="8" height="8" fill="#4F4F4F"/>
<rect x="365.4" y="1158.8" width="8" height="8" fill="#4F4F4F"/>
<rect x="379.2" y="1160.3" width="8" height="8" fill="#4F4F4F"/>
<rect x="404.1" y="1161.8" width="8" height="8" fill="#4F4F4F"/>
<rect x="429.6" y="1163.2" width="8" height="8" fill="#4F4F4F"/>
<rect x="467.9" y="1164.7" width="8" height="8" fill="#4F4F4F"/>
<rect x="516.3" y="1166.1" width="8" height="8" fill="#4F4F4F"/>
<rect x="574.7" y="1167.6" width="8" height="8" fill="#4F4F4F"/>
<rect x="640.4" y="1169.0" width="8" height="8" fill="#4F4F4F"/>
<rect x="759.9" y="1170.5" width="8" height="8" fill="#4F4F4F"/>
<circle cx="1235.7" cy="261.2" r="4.6" fill="#FE3C3C"/>
<circle cx="1116.9" cy="262.3" r="4.6" fill="#FE3C3C"/>
<circle cx="903.8" cy="264.0" r="4.6" fill="#FE3C3C"/>
<circle cx="791.2" cy="265.5" r="4.6" fill="#FE3C3C"/>
<circle cx="700.0" cy="266.9" r="4.6" fill="#FE3C3C"/>
<circle cx="629.5" cy="268.3" r="4.6" fill="#FE3C3C"/>
<circle cx="598.3" cy="269.9" r="4.6" fill="#FE3C3C"/>
<circle cx="545.4" cy="271.2" r="4.6" fill="#FE3C3C"/>
<circle cx="521.8" cy="272.6" r="4.6" fill="#FE3C3C"/>
<circle cx="508.9" cy="274.1" r="4.6" fill="#FE3C3C"/>
<circle cx="473.8" cy="275.7" r="4.6" fill="#FE3C3C"/>
<circle cx="465.4" cy="277.1" r="4.6" fill="#FE3C3C"/>
<circle cx="452.5" cy="278.6" r="4.6" fill="#FE3C3C"/>
<circle cx="445.5" cy="280.0" r="4.6" fill="#FE3C3C"/>
<circle cx="440.8" cy="281.4" r="4.6" fill="#FE3C3C"/>
<circle cx="423.2" cy="282.8" r="4.6" fill="#FE3C3C"/>
<circle cx="417.4" cy="284.5" r="4.6" fill="#FE3C3C"/>
<circle cx="420.9" cy="286.2" r="4.6" fill="#FE3C3C"/>
<circle cx="409.0" cy="287.3" r="4.6" fill="#FE3C3C"/>
<circle cx="394.8" cy="288.9" r="4.6" fill="#FE3C3C"/>
<circle cx="395.0" cy="290.4" r="4.6" fill="#FE3C3C"/>
<circle cx="390.8" cy="291.8" r="4.6" fill="#FE3C3C"/>
<circle cx="386.9" cy="293.3" r="4.6" fill="#FE3C3C"/>
<circle cx="387.1" cy="294.7" r="4.6" fill="#FE3C3C"/>
<circle cx="387.3" cy="296.2" r="4.6" fill="#FE3C3C"/>
<circle cx="389.8" cy="297.7" r="4.6" fill="#FE3C3C"/>
<circle cx="390.4" cy="299.1" r="4.6" fill="#FE3C3C"/>
<circle cx="386.3" cy="300.6" r="4.6" fill="#FE3C3C"/>
<circle cx="386.3" cy="302.0" r="4.6" fill="#FE3C3C"/>
<circle cx="392.0" cy="303.5" r="4.6" fill="#FE3C3C"/>
<circle cx="399.7" cy="304.9" r="4.6" fill="#FE3C3C"/>
<circle cx="408.1" cy="306.4" r="4.6" fill="#FE3C3C"/>
<circle cx="399.9" cy="307.9" r="4.6" fill="#FE3C3C"/>
<circle cx="398.1" cy="309.3" r="4.6" fill="#FE3C3C"/>
<circle cx="395.9" cy="310.8" r="4.6" fill="#FE3C3C"/>
<circle cx="391.3" cy="312.2" r="4.6" fill="#FE3C3C"/>
<circle cx="393.1" cy="313.7" r="4.6" fill="#FE3C3C"/>
<circle cx="391.2" cy="315.1" r="4.6" fill="#FE3C3C"/>
<circle cx="386.0" cy="316.6" r="4.6" fill="#FE3C3C"/>
<circle cx="385.3" cy="318.1" r="4.6" fill="#FE3C3C"/>
<circle cx="387.5" cy="319.5" r="4.6" fill="#FE3C3C"/>
<circle cx="389.1" cy="321.0" r="4.6" fill="#FE3C3C"/>
<circle cx="385.9" cy="322.4" r="4.6" fill="#FE3C3C"/>
<circle cx="384.8" cy="323.9" r="4.6" fill="#FE3C3C"/>
<circle cx="385.7" cy="325.3" r="4.6" fill="#FE3C3C"/>
<circle cx="383.4" cy="326.8" r="4.6" fill="#FE3C3C"/>
<circle cx="384.6" cy="328.3" r="4.6" fill="#FE3C3C"/>
<circle cx="385.8" cy="329.7" r="4.6" fill="#FE3C3C"/>
<circle cx="386.3" cy="331.2" r="4.6" fill="#FE3C3C"/>
<circle cx="385.0" cy="332.6" r="4.6" fill="#FE3C3C"/>
<circle cx="385.1" cy="334.1" r="4.6" fill="#FE3C3C"/>
<circle cx="385.2" cy="335.5" r="4.6" fill="#FE3C3C"/>
<circle cx="385.8" cy="337.0" r="4.6" fill="#FE3C3C"/>
<circle cx="384.2" cy="338.5" r="4.6" fill="#FE3C3C"/>
<circle cx="382.0" cy="339.9" r="4.6" fill="#FE3C3C"/>
<circle cx="385.5" cy="341.4" r="4.6" fill="#FE3C3C"/>
<circle cx="383.3" cy="342.8" r="4.6" fill="#FE3C3C"/>
<circle cx="383.0" cy="344.3" r="4.6" fill="#FE3C3C"/>
<circle cx="380.5" cy="345.8" r="4.6" fill="#FE3C3C"/>
<circle cx="386.1" cy="347.2" r="4.6" fill="#FE3C3C"/>
<circle cx="386.7" cy="348.7" r="4.6" fill="#FE3C3C"/>
<circle cx="383.9" cy="350.1" r="4.6" fill="#FE3C3C"/>
<circle cx="385.0" cy="351.6" r="4.6" fill="#FE3C3C"/>
<circle cx="387.1" cy="353.0" r="4.6" fill="#FE3C3C"/>
<circle cx="386.6" cy="354.5" r="4.6" fill="#FE3C3C"/>
<circle cx="386.7" cy="356.0" r="4.6" fill="#FE3C3C"/>
<circle cx="382.8" cy="357.4" r="4.6" fill="#FE3C3C"/>
<circle cx="383.8" cy="358.9" r="4.6" fill="#FE3C3C"/>
<circle cx="379.8" cy="360.3" r="4.6" fill="#FE3C3C"/>
<circle cx="373.9" cy="361.8" r="4.6" fill="#FE3C3C"/>
<circle cx="371.5" cy="363.2" r="4.6" fill="#FE3C3C"/>
<circle cx="370.4" cy="364.7" r="4.6" fill="#FE3C3C"/>
<circle cx="372.0" cy="366.2" r="4.6" fill="#FE3C3C"/>
<circle cx="372.0" cy="367.6" r="4.6" fill="#FE3C3C"/>
<circle cx="374.3" cy="369.1" r="4.6" fill="#FE3C3C"/>
<circle cx="373.1" cy="370.5" r="4.6" fill="#FE3C3C"/>
<circle cx="376.0" cy="372.0" r="4.6" fill="#FE3C3C"/>
<circle cx="379.2" cy="373.4" r="4.6" fill="#FE3C3C"/>
<circle cx="375.6" cy="374.9" r="4.6" fill="#FE3C3C"/>
<circle cx="372.7" cy="376.4" r="4.6" fill="#FE3C3C"/>
<circle cx="373.2" cy="377.8" r="4.6" fill="#FE3C3C"/>
<circle cx="373.9" cy="379.3" r="4.6" fill="#FE3C3C"/>
<circle cx="373.8" cy="380.7" r="4.6" fill="#FE3C3C"/>
<circle cx="373.2" cy="382.2" r="4.6" fill="#FE3C3C"/>
<circle cx="375.1" cy="383.6" r="4.6" fill="#FE3C3C"/>
<circle cx="377.1" cy="385.1" r="4.6" fill="#FE3C3C"/>
<circle cx="379.4" cy="386.6" r="4.6" fill="#FE3C3C"/>
<circle cx="375.7" cy="388.0" r="4.6" fill="#FE3C3C"/>
<circle cx="372.6" cy="389.5" r="4.6" fill="#FE3C3C"/>
<circle cx="372.8" cy="390.9" r="4.6" fill="#FE3C3C"/>
<circle cx="370.3" cy="392.4" r="4.6" fill="#FE3C3C"/>
<circle cx="370.4" cy="393.8" r="4.6" fill="#FE3C3C"/>
<circle cx="373.9" cy="395.3" r="4.6" fill="#FE3C3C"/>
<circle cx="375.4" cy="396.8" r="4.6" fill="#FE3C3C"/>
<circle cx="373.3" cy="398.2" r="4.6" fill="#FE3C3C"/>
<circle cx="372.3" cy="399.7" r="4.6" fill="#FE3C3C"/>
<circle cx="371.1" cy="401.1" r="4.6" fill="#FE3C3C"/>
<circle cx="373.3" cy="402.6" r="4.6" fill="#FE3C3C"/>
<circle cx="379.9" cy="404.0" r="4.6" fill="#FE3C3C"/>
<circle cx="379.5" cy="405.5" r="4.6" fill="#FE3C3C"/>
<circle cx="377.9" cy="407.0" r="4.6" fill="#FE3C3C"/>
<circle cx="379.2" cy="408.4" r="4.6" fill="#FE3C3C"/>
<circle cx="375.4" cy="409.9" r="4.6" fill="#FE3C3C"/>
<circle cx="376.5" cy="411.3" r="4.6" fill="#FE3C3C"/>
<circle cx="378.4" cy="412.8" r="4.6" fill="#FE3C3C"/>
<circle cx="376.1" cy="414.2" r="4.6" fill="#FE3C3C"/>
<circle cx="375.5" cy="415.7" r="4.6" fill="#FE3C3C"/>
<circle cx="374.5" cy="417.2" r="4.6" fill="#FE3C3C"/>
<circle cx="375.9" cy="418.6" r="4.6" fill="#FE3C3C"/>
<circle cx="378.1" cy="420.1" r="4.6" fill="#FE3C3C"/>
<circle cx="373.0" cy="421.5" r="4.6" fill="#FE3C3C"/>
<circle cx="377.2" cy="423.0" r="4.6" fill="#FE3C3C"/>
<circle cx="377.4" cy="424.4" r="4.6" fill="#FE3C3C"/>
<circle cx="377.8" cy="425.9" r="4.6" fill="#FE3C3C"/>
<circle cx="376.4" cy="427.4" r="4.6" fill="#FE3C3C"/>
<circle cx="376.2" cy="428.8" r="4.6" fill="#FE3C3C"/>
<circle cx="374.0" cy="430.3" r="4.6" fill="#FE3C3C"/>
<circle cx="373.6" cy="431.7" r="4.6" fill="#FE3C3C"/>
<circle cx="373.3" cy="433.2" r="4.6" fill="#FE3C3C"/>
<circle cx="374.7" cy="434.6" r="4.6" fill="#FE3C3C"/>
<circle cx="382.5" cy="436.1" r="4.6" fill="#FE3C3C"/>
<circle cx="384.3" cy="437.6" r="4.6" fill="#FE3C3C"/>
<circle cx="386.3" cy="439.0" r="4.6" fill="#FE3C3C"/>
<circle cx="392.4" cy="440.5" r="4.6" fill="#FE3C3C"/>
<circle cx="396.8" cy="441.9" r="4.6" fill="#FE3C3C"/>
<circle cx="400.6" cy="443.4" r="4.6" fill="#FE3C3C"/>
<circle cx="403.6" cy="444.8" r="4.6" fill="#FE3C3C"/>
<circle cx="407.3" cy="446.3" r="4.6" fill="#FE3C3C"/>
<circle cx="410.4" cy="447.8" r="4.6" fill="#FE3C3C"/>
<circle cx="413.1" cy="449.2" r="4.6" fill="#FE3C3C"/>
<circle cx="406.6" cy="450.7" r="4.6" fill="#FE3C3C"/>
<circle cx="394.8" cy="452.1" r="4.6" fill="#FE3C3C"/>
<circle cx="389.5" cy="453.6" r="4.6" fill="#FE3C3C"/>
<circle cx="388.9" cy="455.0" r="4.6" fill="#FE3C3C"/>
<circle cx="390.8" cy="456.5" r="4.6" fill="#FE3C3C"/>
<circle cx="391.9" cy="458.0" r="4.6" fill="#FE3C3C"/>
<circle cx="391.3" cy="459.4" r="4.6" fill="#FE3C3C"/>
<circle cx="391.6" cy="460.9" r="4.6" fill="#FE3C3C"/>
<circle cx="392.9" cy="462.3" r="4.6" fill="#FE3C3C"/>
<circle cx="394.1" cy="463.8" r="4.6" fill="#FE3C3C"/>
<circle cx="401.5" cy="465.2" r="4.6" fill="#FE3C3C"/>
<circle cx="404.4" cy="466.7" r="4.6" fill="#FE3C3C"/>
<circle cx="404.1" cy="468.2" r="4.6" fill="#FE3C3C"/>
<circle cx="406.6" cy="469.6" r="4.6" fill="#FE3C3C"/>
<circle cx="422.4" cy="472.0" r="4.6" fill="#FE3C3C"/>
<circle cx="432.6" cy="474.9" r="4.6" fill="#FE3C3C"/>
<circle cx="451.8" cy="476.3" r="4.6" fill="#FE3C3C"/>
<circle cx="463.9" cy="477.8" r="4.6" fill="#FE3C3C"/>
<circle cx="451.8" cy="479.4" r="4.6" fill="#FE3C3C"/>
<circle cx="480.1" cy="480.9" r="4.6" fill="#FE3C3C"/>
<circle cx="500.0" cy="482.5" r="4.6" fill="#FE3C3C"/>
<circle cx="553.9" cy="483.9" r="4.6" fill="#FE3C3C"/>
<circle cx="595.4" cy="485.4" r="4.6" fill="#FE3C3C"/>
<circle cx="635.9" cy="486.7" r="4.6" fill="#FE3C3C"/>
<circle cx="692.0" cy="488.4" r="4.6" fill="#FE3C3C"/>
<circle cx="823.3" cy="489.6" r="4.6" fill="#FE3C3C"/>
<circle cx="999.4" cy="491.1" r="4.6" fill="#FE3C3C"/>
<circle cx="1094.3" cy="492.6" r="4.6" fill="#FE3C3C"/>
<circle cx="1113.5" cy="494.0" r="4.6" fill="#FE3C3C"/>
<path d="M458.7 264.2L469.8 264.2L464.2 254.8Z" fill="#0A6CE0"/>
<path d="M446.4 265.5L457.5 265.5L452.0 256.1Z" fill="#0A6CE0"/>
<path d="M429.9 267.0L441.0 267.0L435.4 257.6Z" fill="#0A6CE0"/>
<path d="M415.7 268.6L426.8 268.6L421.2 259.2Z" fill="#0A6CE0"/>
<path d="M409.5 269.9L420.6 269.9L415.0 260.5Z" fill="#0A6CE0"/>
<path d="M401.3 271.3L412.4 271.3L406.8 261.9Z" fill="#0A6CE0"/>
<path d="M396.4 272.7L407.5 272.7L402.0 263.3Z" fill="#0A6CE0"/>
<path d="M391.7 274.1L402.8 274.1L397.3 264.7Z" fill="#0A6CE0"/>
<path d="M393.5 275.4L404.6 275.4L399.0 266.0Z" fill="#0A6CE0"/>
<path d="M394.7 276.9L405.8 276.9L400.3 267.5Z" fill="#0A6CE0"/>
<path d="M391.2 278.3L402.3 278.3L396.7 268.9Z" fill="#0A6CE0"/>
<path d="M393.1 279.8L404.2 279.8L398.7 270.4Z" fill="#0A6CE0"/>
<path d="M399.0 281.3L410.1 281.3L404.6 271.9Z" fill="#0A6CE0"/>
<path d="M399.5 282.7L410.6 282.7L405.1 273.3Z" fill="#0A6CE0"/>
<path d="M400.2 284.2L411.3 284.2L405.7 274.8Z" fill="#0A6CE0"/>
<path d="M399.3 285.6L410.4 285.6L404.8 276.2Z" fill="#0A6CE0"/>
<path d="M401.1 287.1L412.2 287.1L406.6 277.7Z" fill="#0A6CE0"/>
<path d="M400.6 288.5L411.7 288.5L406.2 279.1Z" fill="#0A6CE0"/>
<path d="M400.0 290.0L411.1 290.0L405.6 280.6Z" fill="#0A6CE0"/>
<path d="M397.3 291.5L408.4 291.5L402.8 282.1Z" fill="#0A6CE0"/>
<path d="M398.3 292.9L409.4 292.9L403.8 283.5Z" fill="#0A6CE0"/>
<path d="M397.6 294.4L408.7 294.4L403.2 285.0Z" fill="#0A6CE0"/>
<path d="M399.1 295.8L410.2 295.8L404.7 286.4Z" fill="#0A6CE0"/>
<path d="M400.6 297.3L411.7 297.3L406.1 287.9Z" fill="#0A6CE0"/>
<path d="M400.3 298.7L411.4 298.7L405.9 289.3Z" fill="#0A6CE0"/>
<path d="M398.2 300.2L409.3 300.2L403.7 290.8Z" fill="#0A6CE0"/>
<path d="M397.6 301.7L408.7 301.7L403.2 292.3Z" fill="#0A6CE0"/>
<path d="M396.7 303.1L407.8 303.1L402.2 293.7Z" fill="#0A6CE0"/>
<path d="M395.4 304.6L406.5 304.6L401.0 295.2Z" fill="#0A6CE0"/>
<path d="M395.4 306.0L406.5 306.0L400.9 296.6Z" fill="#0A6CE0"/>
<path d="M397.7 307.5L408.8 307.5L403.3 298.1Z" fill="#0A6CE0"/>
<path d="M396.9 309.0L408.0 309.0L402.5 299.6Z" fill="#0A6CE0"/>
<path d="M397.3 310.4L408.4 310.4L402.8 301.0Z" fill="#0A6CE0"/>
<path d="M400.0 311.9L411.1 311.9L405.6 302.5Z" fill="#0A6CE0"/>
<path d="M398.1 313.3L409.2 313.3L403.6 303.9Z" fill="#0A6CE0"/>
<path d="M398.2 314.8L409.3 314.8L403.8 305.4Z" fill="#0A6CE0"/>
<path d="M396.5 316.2L407.6 316.2L402.1 306.8Z" fill="#0A6CE0"/>
<path d="M395.4 317.7L406.5 317.7L400.9 308.3Z" fill="#0A6CE0"/>
<path d="M396.9 319.2L408.0 319.2L402.4 309.8Z" fill="#0A6CE0"/>
<path d="M393.4 320.6L404.5 320.6L398.9 311.2Z" fill="#0A6CE0"/>
<path d="M392.9 322.1L404.0 322.1L398.5 312.7Z" fill="#0A6CE0"/>
<path d="M396.0 323.5L407.1 323.5L401.5 314.1Z" fill="#0A6CE0"/>
<path d="M395.3 325.0L406.4 325.0L400.9 315.6Z" fill="#0A6CE0"/>
<path d="M393.8 326.4L404.9 326.4L399.4 317.0Z" fill="#0A6CE0"/>
<path d="M398.7 327.9L409.8 327.9L404.3 318.5Z" fill="#0A6CE0"/>
<path d="M399.3 329.4L410.4 329.4L404.9 320.0Z" fill="#0A6CE0"/>
<path d="M399.2 330.8L410.3 330.8L404.7 321.4Z" fill="#0A6CE0"/>
<path d="M400.1 332.3L411.2 332.3L405.6 322.9Z" fill="#0A6CE0"/>
<path d="M399.3 333.7L410.4 333.7L404.9 324.3Z" fill="#0A6CE0"/>
<path d="M399.5 335.2L410.6 335.2L405.0 325.8Z" fill="#0A6CE0"/>
<path d="M397.1 336.6L408.2 336.6L402.7 327.2Z" fill="#0A6CE0"/>
<path d="M400.5 338.1L411.6 338.1L406.0 328.7Z" fill="#0A6CE0"/>
<path d="M400.4 339.6L411.5 339.6L405.9 330.2Z" fill="#0A6CE0"/>
<path d="M396.1 341.0L407.2 341.0L401.7 331.6Z" fill="#0A6CE0"/>
<path d="M399.3 342.5L410.4 342.5L404.8 333.1Z" fill="#0A6CE0"/>
<path d="M398.7 343.9L409.8 343.9L404.2 334.5Z" fill="#0A6CE0"/>
<path d="M396.9 345.4L408.0 345.4L402.5 336.0Z" fill="#0A6CE0"/>
<path d="M396.9 346.8L408.0 346.8L402.4 337.4Z" fill="#0A6CE0"/>
<path d="M396.3 348.3L407.4 348.3L401.8 338.9Z" fill="#0A6CE0"/>
<path d="M398.9 349.8L410.0 349.8L404.4 340.4Z" fill="#0A6CE0"/>
<path d="M397.1 351.2L408.2 351.2L402.6 341.8Z" fill="#0A6CE0"/>
<path d="M399.3 352.7L410.4 352.7L404.9 343.3Z" fill="#0A6CE0"/>
<path d="M396.9 354.1L408.0 354.1L402.4 344.7Z" fill="#0A6CE0"/>
<path d="M398.3 355.6L409.4 355.6L403.8 346.2Z" fill="#0A6CE0"/>
<path d="M396.9 357.0L408.0 357.0L402.5 347.6Z" fill="#0A6CE0"/>
<path d="M393.1 358.5L404.2 358.5L398.7 349.1Z" fill="#0A6CE0"/>
<path d="M392.5 360.0L403.6 360.0L398.1 350.6Z" fill="#0A6CE0"/>
<path d="M393.8 361.4L404.9 361.4L399.4 352.0Z" fill="#0A6CE0"/>
<path d="M392.3 362.9L403.4 362.9L397.8 353.5Z" fill="#0A6CE0"/>
<path d="M391.0 364.3L402.1 364.3L396.5 354.9Z" fill="#0A6CE0"/>
<path d="M389.6 365.8L400.7 365.8L395.1 356.4Z" fill="#0A6CE0"/>
<path d="M390.1 367.2L401.2 367.2L395.7 357.8Z" fill="#0A6CE0"/>
<path d="M392.1 368.7L403.2 368.7L397.7 359.3Z" fill="#0A6CE0"/>
<path d="M389.9 370.2L401.0 370.2L395.5 360.8Z" fill="#0A6CE0"/>
<path d="M395.8 371.6L406.9 371.6L401.3 362.2Z" fill="#0A6CE0"/>
<path d="M394.0 373.1L405.1 373.1L399.5 363.7Z" fill="#0A6CE0"/>
<path d="M397.1 374.5L408.2 374.5L402.7 365.1Z" fill="#0A6CE0"/>
<path d="M393.6 376.0L404.7 376.0L399.1 366.6Z" fill="#0A6CE0"/>
<path d="M396.7 377.4L407.8 377.4L402.3 368.0Z" fill="#0A6CE0"/>
<path d="M395.1 378.9L406.2 378.9L400.6 369.5Z" fill="#0A6CE0"/>
<path d="M393.9 380.4L405.0 380.4L399.5 371.0Z" fill="#0A6CE0"/>
<path d="M394.0 381.8L405.1 381.8L399.5 372.4Z" fill="#0A6CE0"/>
<path d="M394.7 383.3L405.8 383.3L400.3 373.9Z" fill="#0A6CE0"/>
<path d="M394.4 384.7L405.5 384.7L399.9 375.3Z" fill="#0A6CE0"/>
<path d="M392.9 386.2L404.0 386.2L398.4 376.8Z" fill="#0A6CE0"/>
<path d="M393.8 387.6L404.9 387.6L399.3 378.2Z" fill="#0A6CE0"/>
<path d="M397.1 389.1L408.2 389.1L402.6 379.7Z" fill="#0A6CE0"/>
<path d="M400.1 390.6L411.2 390.6L405.7 381.2Z" fill="#0A6CE0"/>
<path d="M398.3 392.0L409.4 392.0L403.8 382.6Z" fill="#0A6CE0"/>
<path d="M395.1 393.5L406.2 393.5L400.7 384.1Z" fill="#0A6CE0"/>
<path d="M398.9 394.9L410.0 394.9L404.5 385.5Z" fill="#0A6CE0"/>
<path d="M398.2 396.4L409.3 396.4L403.7 387.0Z" fill="#0A6CE0"/>
<path d="M399.0 397.8L410.1 397.8L404.5 388.4Z" fill="#0A6CE0"/>
<path d="M394.9 399.3L406.0 399.3L400.5 389.9Z" fill="#0A6CE0"/>
<path d="M398.0 400.8L409.1 400.8L403.5 391.4Z" fill="#0A6CE0"/>
<path d="M394.4 402.2L405.5 402.2L399.9 392.8Z" fill="#0A6CE0"/>
<path d="M397.6 403.7L408.7 403.7L403.2 394.3Z" fill="#0A6CE0"/>
<path d="M395.7 405.1L406.8 405.1L401.2 395.7Z" fill="#0A6CE0"/>
<path d="M395.5 406.6L406.6 406.6L401.0 397.2Z" fill="#0A6CE0"/>
<path d="M399.0 408.0L410.1 408.0L404.6 398.6Z" fill="#0A6CE0"/>
<path d="M394.5 409.5L405.6 409.5L400.1 400.1Z" fill="#0A6CE0"/>
<path d="M394.1 411.0L405.2 411.0L399.6 401.6Z" fill="#0A6CE0"/>
<path d="M393.1 412.4L404.2 412.4L398.7 403.0Z" fill="#0A6CE0"/>
<path d="M388.2 413.9L399.3 413.9L393.7 404.5Z" fill="#0A6CE0"/>
<path d="M388.0 415.3L399.1 415.3L393.5 405.9Z" fill="#0A6CE0"/>
<path d="M391.6 416.8L402.7 416.8L397.1 407.4Z" fill="#0A6CE0"/>
<path d="M389.1 418.2L400.2 418.2L394.7 408.8Z" fill="#0A6CE0"/>
<path d="M390.7 419.7L401.8 419.7L396.3 410.3Z" fill="#0A6CE0"/>
<path d="M387.0 421.2L398.1 421.2L392.6 411.8Z" fill="#0A6CE0"/>
<path d="M388.8 422.6L399.9 422.6L394.4 413.2Z" fill="#0A6CE0"/>
<path d="M388.5 424.1L399.6 424.1L394.0 414.7Z" fill="#0A6CE0"/>
<path d="M391.8 425.5L402.9 425.5L397.4 416.1Z" fill="#0A6CE0"/>
<path d="M390.0 427.0L401.1 427.0L395.6 417.6Z" fill="#0A6CE0"/>
<path d="M396.8 428.4L407.9 428.4L402.4 419.0Z" fill="#0A6CE0"/>
<path d="M393.9 429.9L405.0 429.9L399.5 420.5Z" fill="#0A6CE0"/>
<path d="M400.0 431.4L411.1 431.4L405.5 422.0Z" fill="#0A6CE0"/>
<path d="M398.8 432.8L409.9 432.8L404.3 423.4Z" fill="#0A6CE0"/>
<path d="M402.6 434.3L413.7 434.3L408.2 424.9Z" fill="#0A6CE0"/>
<path d="M413.5 437.7L424.6 437.7L419.0 428.3Z" fill="#0A6CE0"/>
<path d="M421.8 439.4L432.9 439.4L427.4 430.0Z" fill="#0A6CE0"/>
<path d="M428.7 440.7L439.8 440.7L434.3 431.3Z" fill="#0A6CE0"/>
<path d="M440.6 442.0L451.7 442.0L446.1 432.6Z" fill="#0A6CE0"/>
<path d="M458.2 443.4L469.3 443.4L463.7 434.0Z" fill="#0A6CE0"/>
<path d="M469.4 444.7L480.5 444.7L474.9 435.3Z" fill="#0A6CE0"/>
<path d="M1296.9 259.0L1308.0 259.0L1302.4 268.4Z" fill="#00AD66"/>
<path d="M1131.4 260.2L1142.5 260.2L1136.9 269.6Z" fill="#00AD66"/>
<path d="M958.5 261.9L969.6 261.9L964.1 271.3Z" fill="#00AD66"/>
<path d="M800.2 263.3L811.3 263.3L805.8 272.7Z" fill="#00AD66"/>
<path d="M709.5 264.8L720.6 264.8L715.1 274.2Z" fill="#00AD66"/>
<path d="M641.9 266.4L653.0 266.4L647.5 275.8Z" fill="#00AD66"/>
<path d="M562.6 267.5L573.7 267.5L568.1 276.9Z" fill="#00AD66"/>
<path d="M515.1 269.0L526.2 269.0L520.6 278.4Z" fill="#00AD66"/>
<path d="M468.9 270.4L480.0 270.4L474.4 279.8Z" fill="#00AD66"/>
<path d="M437.7 271.6L448.8 271.6L443.3 281.0Z" fill="#00AD66"/>
<path d="M423.9 273.0L435.0 273.0L429.4 282.4Z" fill="#00AD66"/>
<path d="M414.7 274.7L425.8 274.7L420.2 284.1Z" fill="#00AD66"/>
<path d="M394.6 276.2L405.7 276.2L400.1 285.6Z" fill="#00AD66"/>
<path d="M392.6 277.7L403.7 277.7L398.1 287.1Z" fill="#00AD66"/>
<path d="M388.0 279.1L399.1 279.1L393.5 288.5Z" fill="#00AD66"/>
<path d="M388.3 280.6L399.4 280.6L393.8 290.0Z" fill="#00AD66"/>
<path d="M387.0 282.0L398.1 282.0L392.6 291.4Z" fill="#00AD66"/>
<path d="M383.3 283.5L394.4 283.5L388.9 292.9Z" fill="#00AD66"/>
<path d="M386.0 284.9L397.1 284.9L391.5 294.3Z" fill="#00AD66"/>
<path d="M396.3 286.4L407.4 286.4L401.9 295.8Z" fill="#00AD66"/>
<path d="M391.6 287.9L402.7 287.9L397.1 297.3Z" fill="#00AD66"/>
<path d="M391.1 289.3L402.2 289.3L396.6 298.7Z" fill="#00AD66"/>
<path d="M396.7 290.8L407.8 290.8L402.2 300.2Z" fill="#00AD66"/>
<path d="M392.3 292.2L403.4 292.2L397.9 301.6Z" fill="#00AD66"/>
<path d="M394.5 293.7L405.6 293.7L400.0 303.1Z" fill="#00AD66"/>
<path d="M390.4 295.1L401.5 295.1L396.0 304.5Z" fill="#00AD66"/>
<path d="M390.5 296.6L401.6 296.6L396.1 306.0Z" fill="#00AD66"/>
<path d="M386.2 298.1L397.3 298.1L391.8 307.5Z" fill="#00AD66"/>
<path d="M389.4 299.5L400.5 299.5L394.9 308.9Z" fill="#00AD66"/>
<path d="M389.6 301.0L400.7 301.0L395.1 310.4Z" fill="#00AD66"/>
<path d="M385.1 302.4L396.2 302.4L390.7 311.8Z" fill="#00AD66"/>
<path d="M385.6 303.9L396.7 303.9L391.1 313.3Z" fill="#00AD66"/>
<path d="M384.5 305.3L395.6 305.3L390.0 314.7Z" fill="#00AD66"/>
<path d="M379.4 306.8L390.5 306.8L385.0 316.2Z" fill="#00AD66"/>
<path d="M385.4 308.3L396.5 308.3L390.9 317.7Z" fill="#00AD66"/>
<path d="M384.7 309.7L395.8 309.7L390.2 319.1Z" fill="#00AD66"/>
<path d="M380.9 311.2L392.0 311.2L386.5 320.6Z" fill="#00AD66"/>
<path d="M377.0 312.6L388.1 312.6L382.6 322.0Z" fill="#00AD66"/>
<path d="M383.0 314.1L394.1 314.1L388.5 323.5Z" fill="#00AD66"/>
<path d="M380.5 315.5L391.6 315.5L386.1 324.9Z" fill="#00AD66"/>
<path d="M383.2 317.0L394.3 317.0L388.7 326.4Z" fill="#00AD66"/>
<path d="M385.6 318.5L396.7 318.5L391.2 327.9Z" fill="#00AD66"/>
<path d="M385.6 319.9L396.7 319.9L391.1 329.3Z" fill="#00AD66"/>
<path d="M387.8 321.4L398.9 321.4L393.4 330.8Z" fill="#00AD66"/>
<path d="M384.3 322.8L395.4 322.8L389.9 332.2Z" fill="#00AD66"/>
<path d="M386.7 324.3L397.8 324.3L392.2 333.7Z" fill="#00AD66"/>
<path d="M382.4 325.7L393.5 325.7L387.9 335.1Z" fill="#00AD66"/>
<path d="M384.5 327.2L395.6 327.2L390.1 336.6Z" fill="#00AD66"/>
<path d="M383.1 328.7L394.2 328.7L388.7 338.1Z" fill="#00AD66"/>
<path d="M379.5 330.1L390.6 330.1L385.0 339.5Z" fill="#00AD66"/>
<path d="M382.1 331.6L393.2 331.6L387.7 341.0Z" fill="#00AD66"/>
<path d="M381.0 333.0L392.1 333.0L386.5 342.4Z" fill="#00AD66"/>
<path d="M384.1 334.5L395.2 334.5L389.6 343.9Z" fill="#00AD66"/>
<path d="M380.7 336.0L391.8 336.0L386.2 345.4Z" fill="#00AD66"/>
<path d="M386.0 337.4L397.1 337.4L391.6 346.8Z" fill="#00AD66"/>
<path d="M387.1 338.9L398.2 338.9L392.7 348.3Z" fill="#00AD66"/>
<path d="M391.2 340.3L402.3 340.3L396.7 349.7Z" fill="#00AD66"/>
<path d="M392.7 341.8L403.8 341.8L398.3 351.2Z" fill="#00AD66"/>
<path d="M389.0 343.2L400.1 343.2L394.6 352.6Z" fill="#00AD66"/>
<path d="M386.6 344.7L397.7 344.7L392.1 354.1Z" fill="#00AD66"/>
<path d="M383.8 346.2L394.9 346.2L389.4 355.6Z" fill="#00AD66"/>
<path d="M384.7 347.6L395.8 347.6L390.3 357.0Z" fill="#00AD66"/>
<path d="M381.4 349.1L392.5 349.1L386.9 358.5Z" fill="#00AD66"/>
<path d="M381.3 350.5L392.4 350.5L386.9 359.9Z" fill="#00AD66"/>
<path d="M377.2 352.0L388.3 352.0L382.7 361.4Z" fill="#00AD66"/>
<path d="M374.6 353.4L385.7 353.4L380.2 362.8Z" fill="#00AD66"/>
<path d="M370.0 354.9L381.1 354.9L375.5 364.3Z" fill="#00AD66"/>
<path d="M364.3 356.4L375.4 356.4L369.8 365.8Z" fill="#00AD66"/>
<path d="M370.9 357.8L382.0 357.8L376.4 367.2Z" fill="#00AD66"/>
<path d="M376.0 359.3L387.1 359.3L381.5 368.7Z" fill="#00AD66"/>
<path d="M378.7 360.7L389.8 360.7L384.2 370.1Z" fill="#00AD66"/>
<path d="M379.0 362.2L390.1 362.2L384.6 371.6Z" fill="#00AD66"/>
<path d="M380.4 363.6L391.5 363.6L386.0 373.0Z" fill="#00AD66"/>
<path d="M376.9 365.1L388.0 365.1L382.4 374.5Z" fill="#00AD66"/>
<path d="M381.1 366.6L392.2 366.6L386.6 376.0Z" fill="#00AD66"/>
<path d="M378.1 368.0L389.2 368.0L383.7 377.4Z" fill="#00AD66"/>
<path d="M375.1 369.5L386.2 369.5L380.7 378.9Z" fill="#00AD66"/>
<path d="M372.8 370.9L383.9 370.9L378.4 380.3Z" fill="#00AD66"/>
<path d="M378.4 372.4L389.5 372.4L383.9 381.8Z" fill="#00AD66"/>
<path d="M379.1 373.8L390.2 373.8L384.7 383.2Z" fill="#00AD66"/>
<path d="M371.9 375.3L383.0 375.3L377.4 384.7Z" fill="#00AD66"/>
<path d="M377.1 376.8L388.2 376.8L382.6 386.2Z" fill="#00AD66"/>
<path d="M373.8 378.2L384.9 378.2L379.3 387.6Z" fill="#00AD66"/>
<path d="M375.2 379.7L386.3 379.7L380.8 389.1Z" fill="#00AD66"/>
<path d="M384.5 381.1L395.6 381.1L390.1 390.5Z" fill="#00AD66"/>
<path d="M392.0 382.6L403.1 382.6L397.5 392.0Z" fill="#00AD66"/>
<path d="M393.5 384.0L404.6 384.0L399.0 393.4Z" fill="#00AD66"/>
<path d="M387.9 385.5L399.0 385.5L393.4 394.9Z" fill="#00AD66"/>
<path d="M393.5 387.0L404.6 387.0L399.1 396.4Z" fill="#00AD66"/>
<path d="M390.4 388.4L401.5 388.4L395.9 397.8Z" fill="#00AD66"/>
<path d="M390.1 389.9L401.2 389.9L395.7 399.3Z" fill="#00AD66"/>
<path d="M381.6 391.3L392.7 391.3L387.1 400.7Z" fill="#00AD66"/>
<path d="M384.1 392.8L395.2 392.8L389.7 402.2Z" fill="#00AD66"/>
<path d="M384.9 394.2L396.0 394.2L390.4 403.6Z" fill="#00AD66"/>
<path d="M381.2 395.7L392.3 395.7L386.8 405.1Z" fill="#00AD66"/>
<path d="M385.0 397.2L396.1 397.2L390.6 406.6Z" fill="#00AD66"/>
<path d="M379.7 398.6L390.8 398.6L385.3 408.0Z" fill="#00AD66"/>
<path d="M379.9 400.1L391.0 400.1L385.4 409.5Z" fill="#00AD66"/>
<path d="M385.8 401.5L396.9 401.5L391.4 410.9Z" fill="#00AD66"/>
<path d="M378.3 403.0L389.4 403.0L383.8 412.4Z" fill="#00AD66"/>
<path d="M374.7 404.4L385.8 404.4L380.3 413.8Z" fill="#00AD66"/>
<path d="M373.6 405.9L384.7 405.9L379.2 415.3Z" fill="#00AD66"/>
<path d="M375.2 407.4L386.3 407.4L380.7 416.8Z" fill="#00AD66"/>
<path d="M371.7 408.8L382.8 408.8L377.2 418.2Z" fill="#00AD66"/>
<path d="M370.8 410.3L381.9 410.3L376.3 419.7Z" fill="#00AD66"/>
<path d="M377.2 411.7L388.3 411.7L382.7 421.1Z" fill="#00AD66"/>
<path d="M372.9 413.2L384.0 413.2L378.4 422.6Z" fill="#00AD66"/>
<path d="M377.9 414.6L389.0 414.6L383.4 424.0Z" fill="#00AD66"/>
<path d="M377.4 416.1L388.5 416.1L382.9 425.5Z" fill="#00AD66"/>
<path d="M373.4 417.6L384.5 417.6L378.9 427.0Z" fill="#00AD66"/>
<path d="M374.0 419.0L385.1 419.0L379.6 428.4Z" fill="#00AD66"/>
<path d="M374.5 420.5L385.6 420.5L380.0 429.9Z" fill="#00AD66"/>
<path d="M375.4 421.9L386.5 421.9L381.0 431.3Z" fill="#00AD66"/>
<path d="M375.1 423.4L386.2 423.4L380.6 432.8Z" fill="#00AD66"/>
<path d="M374.8 424.8L385.9 424.8L380.3 434.2Z" fill="#00AD66"/>
<path d="M379.4 426.3L390.5 426.3L384.9 435.7Z" fill="#00AD66"/>
<path d="M388.0 427.8L399.1 427.8L393.6 437.2Z" fill="#00AD66"/>
<path d="M390.3 429.2L401.4 429.2L395.9 438.6Z" fill="#00AD66"/>
<path d="M393.4 430.7L404.5 430.7L398.9 440.1Z" fill="#00AD66"/>
<path d="M399.2 432.1L410.3 432.1L404.8 441.5Z" fill="#00AD66"/>
<path d="M396.5 433.6L407.6 433.6L402.0 443.0Z" fill="#00AD66"/>
<path d="M397.6 435.0L408.7 435.0L403.2 444.4Z" fill="#00AD66"/>
<path d="M400.5 436.5L411.6 436.5L406.1 445.9Z" fill="#00AD66"/>
<path d="M392.5 438.0L403.6 438.0L398.1 447.4Z" fill="#00AD66"/>
<path d="M388.2 439.4L399.3 439.4L393.7 448.8Z" fill="#00AD66"/>
<path d="M386.1 440.9L397.2 440.9L391.7 450.3Z" fill="#00AD66"/>
<path d="M393.0 442.3L404.1 442.3L398.5 451.7Z" fill="#00AD66"/>
<path d="M394.8 443.8L405.9 443.8L400.3 453.2Z" fill="#00AD66"/>
<path d="M390.8 445.2L401.9 445.2L396.3 454.6Z" fill="#00AD66"/>
<path d="M395.6 446.7L406.7 446.7L401.2 456.1Z" fill="#00AD66"/>
<path d="M396.1 448.2L407.2 448.2L401.6 457.6Z" fill="#00AD66"/>
<path d="M391.8 449.6L402.9 449.6L397.3 459.0Z" fill="#00AD66"/>
<path d="M395.8 451.1L406.9 451.1L401.3 460.5Z" fill="#00AD66"/>
<path d="M394.2 452.5L405.3 452.5L399.8 461.9Z" fill="#00AD66"/>
<path d="M395.5 454.0L406.6 454.0L401.1 463.4Z" fill="#00AD66"/>
<path d="M393.3 455.4L404.4 455.4L398.9 464.8Z" fill="#00AD66"/>
<path d="M398.2 456.9L409.3 456.9L403.7 466.3Z" fill="#00AD66"/>
<path d="M395.3 458.4L406.4 458.4L400.9 467.8Z" fill="#00AD66"/>
<path d="M385.2 459.8L396.3 459.8L390.8 469.2Z" fill="#00AD66"/>
<path d="M382.2 461.3L393.3 461.3L387.7 470.7Z" fill="#00AD66"/>
<path d="M384.2 462.7L395.3 462.7L389.8 472.1Z" fill="#00AD66"/>
<path d="M391.6 464.2L402.7 464.2L397.1 473.6Z" fill="#00AD66"/>
<path d="M392.3 465.6L403.4 465.6L397.9 475.0Z" fill="#00AD66"/>
<path d="M395.9 467.1L407.0 467.1L401.4 476.5Z" fill="#00AD66"/>
<path d="M405.3 469.6L416.4 469.6L410.8 479.0Z" fill="#00AD66"/>
<path d="M414.3 471.2L425.4 471.2L419.9 480.6Z" fill="#00AD66"/>
<path d="M423.2 472.4L434.3 472.4L428.7 481.8Z" fill="#00AD66"/>
<path d="M447.6 474.3L458.7 474.3L453.2 483.7Z" fill="#00AD66"/>
<path d="M458.3 475.5L469.4 475.5L463.9 484.9Z" fill="#00AD66"/>
<path d="M494.5 477.0L505.6 477.0L500.0 486.4Z" fill="#00AD66"/>
<path d="M550.2 478.6L561.3 478.6L555.7 488.0Z" fill="#00AD66"/>
<path d="M602.7 479.8L613.8 479.8L608.3 489.2Z" fill="#00AD66"/>
<path d="M685.9 481.7L697.0 481.7L691.5 491.1Z" fill="#00AD66"/>
<path d="M795.0 482.8L806.1 482.8L800.6 492.2Z" fill="#00AD66"/>
<path d="M1000.7 484.4L1011.8 484.4L1006.2 493.8Z" fill="#00AD66"/>
<path d="M1203.7 485.9L1214.8 485.9L1209.2 495.3Z" fill="#00AD66"/>
</g>
<rect x="687.5" y="551" width="811.5" height="612" fill="#fff" stroke="#000" stroke-width="4"/>
<path d="M890.4 551v11 M1093.2 551v11 M1296.1 551v11 M687.5 568.5h11 M687.5 748.7h11 M687.5 928.9h11 M687.5 1109.1h11" stroke="#000" stroke-width="4" fill="none"/>
<g style="font-family:'Liberation Serif','Times New Roman',serif;font-kerning:none" font-size="43" fill="#000">
<text x="687.5" y="541" text-anchor="middle">0</text>
<text x="890.4" y="541" text-anchor="middle">5</text>
<text x="1093.2" y="541" text-anchor="middle">10</text>
<text x="1296.1" y="541" text-anchor="middle">15</text>
<text x="1499.0" y="541" text-anchor="middle">20</text>
<text x="683.5" y="580.5" text-anchor="end">0</text>
<text x="683.5" y="760.7" text-anchor="end">5</text>
<text x="683.5" y="940.9" text-anchor="end">10</text>
<text x="683.5" y="1121.1" text-anchor="end">15</text>
</g>
<g>
<circle cx="1327.3" cy="572.4" r="4.0" fill="#FE3C3C"/>
<circle cx="1256.3" cy="575.2" r="4.0" fill="#FE3C3C"/>
<circle cx="1129.0" cy="579.4" r="4.0" fill="#FE3C3C"/>
<circle cx="1061.7" cy="583.1" r="4.0" fill="#FE3C3C"/>
<circle cx="1007.2" cy="586.5" r="4.0" fill="#FE3C3C"/>
<circle cx="965.1" cy="590.1" r="4.0" fill="#FE3C3C"/>
<circle cx="946.4" cy="594.0" r="4.0" fill="#FE3C3C"/>
<circle cx="914.8" cy="597.1" r="4.0" fill="#FE3C3C"/>
<circle cx="900.7" cy="600.6" r="4.0" fill="#FE3C3C"/>
<circle cx="893.0" cy="604.4" r="4.0" fill="#FE3C3C"/>
<circle cx="872.0" cy="608.3" r="4.0" fill="#FE3C3C"/>
<circle cx="867.0" cy="611.9" r="4.0" fill="#FE3C3C"/>
<circle cx="859.3" cy="615.6" r="4.0" fill="#FE3C3C"/>
<circle cx="855.1" cy="618.9" r="4.0" fill="#FE3C3C"/>
<circle cx="852.3" cy="622.4" r="4.0" fill="#FE3C3C"/>
<circle cx="841.8" cy="625.9" r="4.0" fill="#FE3C3C"/>
<circle cx="838.3" cy="630.1" r="4.0" fill="#FE3C3C"/>
<circle cx="840.4" cy="634.3" r="4.0" fill="#FE3C3C"/>
<circle cx="833.3" cy="637.1" r="4.0" fill="#FE3C3C"/>
<circle cx="824.8" cy="641.0" r="4.0" fill="#FE3C3C"/>
<circle cx="824.9" cy="644.6" r="4.0" fill="#FE3C3C"/>
<circle cx="822.5" cy="648.2" r="4.0" fill="#FE3C3C"/>
<circle cx="820.1" cy="651.8" r="4.0" fill="#FE3C3C"/>
<circle cx="820.2" cy="655.4" r="4.0" fill="#FE3C3C"/>
<circle cx="820.4" cy="659.0" r="4.0" fill="#FE3C3C"/>
<circle cx="821.8" cy="662.6" r="4.0" fill="#FE3C3C"/>
<circle cx="822.2" cy="666.2" r="4.0" fill="#FE3C3C"/>
<circle cx="819.7" cy="669.8" r="4.0" fill="#FE3C3C"/>
<circle cx="819.7" cy="673.4" r="4.0" fill="#FE3C3C"/>
<circle cx="823.1" cy="677.0" r="4.0" fill="#FE3C3C"/>
<circle cx="827.8" cy="680.6" r="4.0" fill="#FE3C3C"/>
<circle cx="832.8" cy="684.2" r="4.0" fill="#FE3C3C"/>
<circle cx="827.8" cy="687.9" r="4.0" fill="#FE3C3C"/>
<circle cx="826.8" cy="691.5" r="4.0" fill="#FE3C3C"/>
<circle cx="825.5" cy="695.1" r="4.0" fill="#FE3C3C"/>
<circle cx="822.7" cy="698.7" r="4.0" fill="#FE3C3C"/>
<circle cx="823.8" cy="702.3" r="4.0" fill="#FE3C3C"/>
<circle cx="822.7" cy="705.9" r="4.0" fill="#FE3C3C"/>
<circle cx="819.6" cy="709.5" r="4.0" fill="#FE3C3C"/>
<circle cx="819.2" cy="713.1" r="4.0" fill="#FE3C3C"/>
<circle cx="820.5" cy="716.7" r="4.0" fill="#FE3C3C"/>
<circle cx="821.4" cy="720.3" r="4.0" fill="#FE3C3C"/>
<circle cx="819.5" cy="723.9" r="4.0" fill="#FE3C3C"/>
<circle cx="818.8" cy="727.5" r="4.0" fill="#FE3C3C"/>
<circle cx="819.4" cy="731.1" r="4.0" fill="#FE3C3C"/>
<circle cx="818.0" cy="734.7" r="4.0" fill="#FE3C3C"/>
<circle cx="818.7" cy="738.3" r="4.0" fill="#FE3C3C"/>
<circle cx="819.5" cy="741.9" r="4.0" fill="#FE3C3C"/>
<circle cx="819.7" cy="745.5" r="4.0" fill="#FE3C3C"/>
<circle cx="819.0" cy="749.1" r="4.0" fill="#FE3C3C"/>
<circle cx="819.0" cy="752.7" r="4.0" fill="#FE3C3C"/>
<circle cx="819.1" cy="756.3" r="4.0" fill="#FE3C3C"/>
<circle cx="819.5" cy="759.9" r="4.0" fill="#FE3C3C"/>
<circle cx="818.5" cy="763.5" r="4.0" fill="#FE3C3C"/>
<circle cx="817.1" cy="767.1" r="4.0" fill="#FE3C3C"/>
<circle cx="819.3" cy="770.7" r="4.0" fill="#FE3C3C"/>
<circle cx="817.9" cy="774.3" r="4.0" fill="#FE3C3C"/>
<circle cx="817.7" cy="778.0" r="4.0" fill="#FE3C3C"/>
<circle cx="816.3" cy="781.6" r="4.0" fill="#FE3C3C"/>
<circle cx="819.6" cy="785.2" r="4.0" fill="#FE3C3C"/>
<circle cx="820.0" cy="788.8" r="4.0" fill="#FE3C3C"/>
<circle cx="818.3" cy="792.4" r="4.0" fill="#FE3C3C"/>
<circle cx="819.0" cy="796.0" r="4.0" fill="#FE3C3C"/>
<circle cx="820.2" cy="799.6" r="4.0" fill="#FE3C3C"/>
<circle cx="819.9" cy="803.2" r="4.0" fill="#FE3C3C"/>
<circle cx="820.0" cy="806.8" r="4.0" fill="#FE3C3C"/>
<circle cx="817.6" cy="810.4" r="4.0" fill="#FE3C3C"/>
<circle cx="818.2" cy="814.0" r="4.0" fill="#FE3C3C"/>
<circle cx="815.9" cy="817.6" r="4.0" fill="#FE3C3C"/>
<circle cx="812.3" cy="821.2" r="4.0" fill="#FE3C3C"/>
<circle cx="810.9" cy="824.8" r="4.0" fill="#FE3C3C"/>
<circle cx="810.3" cy="828.4" r="4.0" fill="#FE3C3C"/>
<circle cx="811.2" cy="832.0" r="4.0" fill="#FE3C3C"/>
<circle cx="811.2" cy="835.6" r="4.0" fill="#FE3C3C"/>
<circle cx="812.6" cy="839.2" r="4.0" fill="#FE3C3C"/>
<circle cx="811.9" cy="842.8" r="4.0" fill="#FE3C3C"/>
<circle cx="813.6" cy="846.4" r="4.0" fill="#FE3C3C"/>
<circle cx="815.5" cy="850.0" r="4.0" fill="#FE3C3C"/>
<circle cx="813.4" cy="853.6" r="4.0" fill="#FE3C3C"/>
<circle cx="811.6" cy="857.2" r="4.0" fill="#FE3C3C"/>
<circle cx="811.9" cy="860.8" r="4.0" fill="#FE3C3C"/>
<circle cx="812.3" cy="864.4" r="4.0" fill="#FE3C3C"/>
<circle cx="812.3" cy="868.1" r="4.0" fill="#FE3C3C"/>
<circle cx="811.9" cy="871.7" r="4.0" fill="#FE3C3C"/>
<circle cx="813.1" cy="875.3" r="4.0" fill="#FE3C3C"/>
<circle cx="814.3" cy="878.9" r="4.0" fill="#FE3C3C"/>
<circle cx="815.6" cy="882.5" r="4.0" fill="#FE3C3C"/>
<circle cx="813.4" cy="886.1" r="4.0" fill="#FE3C3C"/>
<circle cx="811.6" cy="889.7" r="4.0" fill="#FE3C3C"/>
<circle cx="811.7" cy="893.3" r="4.0" fill="#FE3C3C"/>
<circle cx="810.2" cy="896.9" r="4.0" fill="#FE3C3C"/>
<circle cx="810.2" cy="900.5" r="4.0" fill="#FE3C3C"/>
<circle cx="812.4" cy="904.1" r="4.0" fill="#FE3C3C"/>
<circle cx="813.2" cy="907.7" r="4.0" fill="#FE3C3C"/>
<circle cx="812.0" cy="911.3" r="4.0" fill="#FE3C3C"/>
<circle cx="811.4" cy="914.9" r="4.0" fill="#FE3C3C"/>
<circle cx="810.6" cy="918.5" r="4.0" fill="#FE3C3C"/>
<circle cx="812.0" cy="922.1" r="4.0" fill="#FE3C3C"/>
<circle cx="815.9" cy="925.7" r="4.0" fill="#FE3C3C"/>
<circle cx="815.7" cy="929.3" r="4.0" fill="#FE3C3C"/>
<circle cx="814.7" cy="932.9" r="4.0" fill="#FE3C3C"/>
<circle cx="815.5" cy="936.5" r="4.0" fill="#FE3C3C"/>
<circle cx="813.2" cy="940.1" r="4.0" fill="#FE3C3C"/>
<circle cx="813.9" cy="943.7" r="4.0" fill="#FE3C3C"/>
<circle cx="815.0" cy="947.3" r="4.0" fill="#FE3C3C"/>
<circle cx="813.6" cy="950.9" r="4.0" fill="#FE3C3C"/>
<circle cx="813.3" cy="954.5" r="4.0" fill="#FE3C3C"/>
<circle cx="812.7" cy="958.2" r="4.0" fill="#FE3C3C"/>
<circle cx="813.6" cy="961.8" r="4.0" fill="#FE3C3C"/>
<circle cx="814.9" cy="965.4" r="4.0" fill="#FE3C3C"/>
<circle cx="811.8" cy="969.0" r="4.0" fill="#FE3C3C"/>
<circle cx="814.3" cy="972.6" r="4.0" fill="#FE3C3C"/>
<circle cx="814.4" cy="976.2" r="4.0" fill="#FE3C3C"/>
<circle cx="814.6" cy="979.8" r="4.0" fill="#FE3C3C"/>
<circle cx="813.8" cy="983.4" r="4.0" fill="#FE3C3C"/>
<circle cx="813.7" cy="987.0" r="4.0" fill="#FE3C3C"/>
<circle cx="812.4" cy="990.6" r="4.0" fill="#FE3C3C"/>
<circle cx="812.2" cy="994.2" r="4.0" fill="#FE3C3C"/>
<circle cx="812.0" cy="997.8" r="4.0" fill="#FE3C3C"/>
<circle cx="812.8" cy="1001.4" r="4.0" fill="#FE3C3C"/>
<circle cx="817.5" cy="1005.0" r="4.0" fill="#FE3C3C"/>
<circle cx="818.5" cy="1008.6" r="4.0" fill="#FE3C3C"/>
<circle cx="819.7" cy="1012.2" r="4.0" fill="#FE3C3C"/>
<circle cx="823.4" cy="1015.8" r="4.0" fill="#FE3C3C"/>
<circle cx="826.0" cy="1019.4" r="4.0" fill="#FE3C3C"/>
<circle cx="828.3" cy="1023.0" r="4.0" fill="#FE3C3C"/>
<circle cx="830.1" cy="1026.6" r="4.0" fill="#FE3C3C"/>
<circle cx="832.3" cy="1030.2" r="4.0" fill="#FE3C3C"/>
<circle cx="834.2" cy="1033.8" r="4.0" fill="#FE3C3C"/>
<circle cx="835.7" cy="1037.4" r="4.0" fill="#FE3C3C"/>
<circle cx="831.9" cy="1041.0" r="4.0" fill="#FE3C3C"/>
<circle cx="824.8" cy="1044.6" r="4.0" fill="#FE3C3C"/>
<circle cx="821.7" cy="1048.3" r="4.0" fill="#FE3C3C"/>
<circle cx="821.3" cy="1051.9" r="4.0" fill="#FE3C3C"/>
<circle cx="822.4" cy="1055.5" r="4.0" fill="#FE3C3C"/>
<circle cx="823.1" cy="1059.1" r="4.0" fill="#FE3C3C"/>
<circle cx="822.7" cy="1062.7" r="4.0" fill="#FE3C3C"/>
<circle cx="822.9" cy="1066.3" r="4.0" fill="#FE3C3C"/>
<circle cx="823.7" cy="1069.9" r="4.0" fill="#FE3C3C"/>
<circle cx="824.4" cy="1073.5" r="4.0" fill="#FE3C3C"/>
<circle cx="828.8" cy="1077.1" r="4.0" fill="#FE3C3C"/>
<circle cx="830.6" cy="1080.7" r="4.0" fill="#FE3C3C"/>
<circle cx="830.4" cy="1084.3" r="4.0" fill="#FE3C3C"/>
<circle cx="831.9" cy="1087.9" r="4.0" fill="#FE3C3C"/>
<circle cx="841.3" cy="1093.7" r="4.0" fill="#FE3C3C"/>
<circle cx="847.4" cy="1101.0" r="4.0" fill="#FE3C3C"/>
<circle cx="858.9" cy="1104.4" r="4.0" fill="#FE3C3C"/>
<circle cx="866.1" cy="1108.2" r="4.0" fill="#FE3C3C"/>
<circle cx="858.9" cy="1112.1" r="4.0" fill="#FE3C3C"/>
<circle cx="875.8" cy="1115.9" r="4.0" fill="#FE3C3C"/>
<circle cx="887.7" cy="1119.7" r="4.0" fill="#FE3C3C"/>
<circle cx="919.9" cy="1123.1" r="4.0" fill="#FE3C3C"/>
<circle cx="944.7" cy="1126.9" r="4.0" fill="#FE3C3C"/>
<circle cx="968.9" cy="1130.1" r="4.0" fill="#FE3C3C"/>
<circle cx="1002.4" cy="1134.3" r="4.0" fill="#FE3C3C"/>
<circle cx="1080.9" cy="1137.4" r="4.0" fill="#FE3C3C"/>
<circle cx="1186.1" cy="1140.9" r="4.0" fill="#FE3C3C"/>
<circle cx="1242.8" cy="1144.8" r="4.0" fill="#FE3C3C"/>
<circle cx="1254.3" cy="1148.2" r="4.0" fill="#FE3C3C"/>
<path d="M861.6 575.2L870.9 575.2L866.3 567.0Z" fill="#0A6CE0"/>
<path d="M854.4 578.5L863.6 578.5L859.0 570.2Z" fill="#0A6CE0"/>
<path d="M844.5 582.4L853.8 582.4L849.1 574.1Z" fill="#0A6CE0"/>
<path d="M836.0 586.1L845.2 586.1L840.6 577.9Z" fill="#0A6CE0"/>
<path d="M832.2 589.4L841.5 589.4L836.9 581.1Z" fill="#0A6CE0"/>
<path d="M827.4 592.9L836.6 592.9L832.0 584.6Z" fill="#0A6CE0"/>
<path d="M824.5 596.4L833.8 596.4L829.1 588.1Z" fill="#0A6CE0"/>
<path d="M821.6 599.9L830.9 599.9L826.3 591.6Z" fill="#0A6CE0"/>
<path d="M822.7 603.1L832.0 603.1L827.4 594.9Z" fill="#0A6CE0"/>
<path d="M823.4 606.8L832.7 606.8L828.1 598.5Z" fill="#0A6CE0"/>
<path d="M821.3 610.4L830.6 610.4L826.0 602.1Z" fill="#0A6CE0"/>
<path d="M822.5 614.0L831.8 614.0L827.1 605.7Z" fill="#0A6CE0"/>
<path d="M826.0 617.6L835.3 617.6L830.7 609.3Z" fill="#0A6CE0"/>
<path d="M826.3 621.2L835.6 621.2L831.0 612.9Z" fill="#0A6CE0"/>
<path d="M826.7 624.8L836.0 624.8L831.4 616.5Z" fill="#0A6CE0"/>
<path d="M826.2 628.4L835.5 628.4L830.8 620.1Z" fill="#0A6CE0"/>
<path d="M827.2 632.0L836.5 632.0L831.9 623.7Z" fill="#0A6CE0"/>
<path d="M827.0 635.6L836.3 635.6L831.6 627.3Z" fill="#0A6CE0"/>
<path d="M826.6 639.2L835.9 639.2L831.3 630.9Z" fill="#0A6CE0"/>
<path d="M825.0 642.8L834.3 642.8L829.6 634.5Z" fill="#0A6CE0"/>
<path d="M825.6 646.4L834.9 646.4L830.2 638.1Z" fill="#0A6CE0"/>
<path d="M825.2 650.0L834.5 650.0L829.8 641.7Z" fill="#0A6CE0"/>
<path d="M826.1 653.6L835.4 653.6L830.7 645.3Z" fill="#0A6CE0"/>
<path d="M826.9 657.2L836.2 657.2L831.6 648.9Z" fill="#0A6CE0"/>
<path d="M826.8 660.8L836.1 660.8L831.4 652.5Z" fill="#0A6CE0"/>
<path d="M825.5 664.4L834.8 664.4L830.1 656.1Z" fill="#0A6CE0"/>
<path d="M825.2 668.0L834.5 668.0L829.8 659.7Z" fill="#0A6CE0"/>
<path d="M824.6 671.6L833.9 671.6L829.3 663.3Z" fill="#0A6CE0"/>
<path d="M823.9 675.2L833.2 675.2L828.5 666.9Z" fill="#0A6CE0"/>
<path d="M823.8 678.8L833.1 678.8L828.5 670.5Z" fill="#0A6CE0"/>
<path d="M825.2 682.4L834.5 682.4L829.9 674.1Z" fill="#0A6CE0"/>
<path d="M824.8 686.0L834.1 686.0L829.4 677.7Z" fill="#0A6CE0"/>
<path d="M825.0 689.6L834.3 689.6L829.6 681.3Z" fill="#0A6CE0"/>
<path d="M826.6 693.3L835.9 693.3L831.3 685.0Z" fill="#0A6CE0"/>
<path d="M825.4 696.9L834.7 696.9L830.1 688.6Z" fill="#0A6CE0"/>
<path d="M825.5 700.5L834.8 700.5L830.2 692.2Z" fill="#0A6CE0"/>
<path d="M824.5 704.1L833.8 704.1L829.2 695.8Z" fill="#0A6CE0"/>
<path d="M823.8 707.7L833.1 707.7L828.5 699.4Z" fill="#0A6CE0"/>
<path d="M824.7 711.3L834.0 711.3L829.4 703.0Z" fill="#0A6CE0"/>
<path d="M822.7 714.9L832.0 714.9L827.3 706.6Z" fill="#0A6CE0"/>
<path d="M822.4 718.5L831.7 718.5L827.0 710.2Z" fill="#0A6CE0"/>
<path d="M824.2 722.1L833.5 722.1L828.8 713.8Z" fill="#0A6CE0"/>
<path d="M823.8 725.7L833.1 725.7L828.5 717.4Z" fill="#0A6CE0"/>
<path d="M822.9 729.3L832.2 729.3L827.5 721.0Z" fill="#0A6CE0"/>
<path d="M825.8 732.9L835.1 732.9L830.5 724.6Z" fill="#0A6CE0"/>
<path d="M826.2 736.5L835.5 736.5L830.8 728.2Z" fill="#0A6CE0"/>
<path d="M826.1 740.1L835.4 740.1L830.8 731.8Z" fill="#0A6CE0"/>
<path d="M826.7 743.7L836.0 743.7L831.3 735.4Z" fill="#0A6CE0"/>
<path d="M826.2 747.3L835.5 747.3L830.8 739.0Z" fill="#0A6CE0"/>
<path d="M826.3 750.9L835.6 750.9L830.9 742.6Z" fill="#0A6CE0"/>
<path d="M824.9 754.5L834.2 754.5L829.5 746.2Z" fill="#0A6CE0"/>
<path d="M826.9 758.1L836.2 758.1L831.5 749.8Z" fill="#0A6CE0"/>
<path d="M826.8 761.7L836.1 761.7L831.5 753.4Z" fill="#0A6CE0"/>
<path d="M824.3 765.3L833.6 765.3L828.9 757.0Z" fill="#0A6CE0"/>
<path d="M826.2 768.9L835.5 768.9L830.8 760.6Z" fill="#0A6CE0"/>
<path d="M825.8 772.5L835.1 772.5L830.5 764.2Z" fill="#0A6CE0"/>
<path d="M824.8 776.1L834.1 776.1L829.4 767.8Z" fill="#0A6CE0"/>
<path d="M824.7 779.7L834.0 779.7L829.4 771.4Z" fill="#0A6CE0"/>
<path d="M824.4 783.4L833.7 783.4L829.0 775.1Z" fill="#0A6CE0"/>
<path d="M825.9 787.0L835.2 787.0L830.6 778.7Z" fill="#0A6CE0"/>
<path d="M824.8 790.6L834.1 790.6L829.5 782.3Z" fill="#0A6CE0"/>
<path d="M826.2 794.2L835.5 794.2L830.8 785.9Z" fill="#0A6CE0"/>
<path d="M824.7 797.8L834.0 797.8L829.4 789.5Z" fill="#0A6CE0"/>
<path d="M825.6 801.4L834.9 801.4L830.2 793.1Z" fill="#0A6CE0"/>
<path d="M824.7 805.0L834.0 805.0L829.4 796.7Z" fill="#0A6CE0"/>
<path d="M822.5 808.6L831.8 808.6L827.1 800.3Z" fill="#0A6CE0"/>
<path d="M822.1 812.2L831.4 812.2L826.8 803.9Z" fill="#0A6CE0"/>
<path d="M822.9 815.8L832.2 815.8L827.6 807.5Z" fill="#0A6CE0"/>
<path d="M822.0 819.4L831.3 819.4L826.6 811.1Z" fill="#0A6CE0"/>
<path d="M821.2 823.0L830.5 823.0L825.9 814.7Z" fill="#0A6CE0"/>
<path d="M820.4 826.6L829.7 826.6L825.0 818.3Z" fill="#0A6CE0"/>
<path d="M820.7 830.2L830.0 830.2L825.3 821.9Z" fill="#0A6CE0"/>
<path d="M821.9 833.8L831.2 833.8L826.5 825.5Z" fill="#0A6CE0"/>
<path d="M820.6 837.4L829.9 837.4L825.2 829.1Z" fill="#0A6CE0"/>
<path d="M824.1 841.0L833.4 841.0L828.7 832.7Z" fill="#0A6CE0"/>
<path d="M823.0 844.6L832.3 844.6L827.6 836.3Z" fill="#0A6CE0"/>
<path d="M824.9 848.2L834.2 848.2L829.5 839.9Z" fill="#0A6CE0"/>
<path d="M822.8 851.8L832.1 851.8L827.4 843.5Z" fill="#0A6CE0"/>
<path d="M824.6 855.4L833.9 855.4L829.3 847.1Z" fill="#0A6CE0"/>
<path d="M823.7 859.0L833.0 859.0L828.3 850.7Z" fill="#0A6CE0"/>
<path d="M823.0 862.6L832.3 862.6L827.6 854.3Z" fill="#0A6CE0"/>
<path d="M823.0 866.2L832.3 866.2L827.7 857.9Z" fill="#0A6CE0"/>
<path d="M823.4 869.8L832.7 869.8L828.1 861.5Z" fill="#0A6CE0"/>
<path d="M823.2 873.5L832.5 873.5L827.9 865.2Z" fill="#0A6CE0"/>
<path d="M822.3 877.1L831.6 877.1L827.0 868.8Z" fill="#0A6CE0"/>
<path d="M822.9 880.7L832.2 880.7L827.5 872.4Z" fill="#0A6CE0"/>
<path d="M824.9 884.3L834.2 884.3L829.5 876.0Z" fill="#0A6CE0"/>
<path d="M826.7 887.9L836.0 887.9L831.3 879.6Z" fill="#0A6CE0"/>
<path d="M825.6 891.5L834.9 891.5L830.2 883.2Z" fill="#0A6CE0"/>
<path d="M823.7 895.1L833.0 895.1L828.3 886.8Z" fill="#0A6CE0"/>
<path d="M825.9 898.7L835.2 898.7L830.6 890.4Z" fill="#0A6CE0"/>
<path d="M825.5 902.3L834.8 902.3L830.2 894.0Z" fill="#0A6CE0"/>
<path d="M826.0 905.9L835.3 905.9L830.6 897.6Z" fill="#0A6CE0"/>
<path d="M823.6 909.5L832.9 909.5L828.2 901.2Z" fill="#0A6CE0"/>
<path d="M825.4 913.1L834.7 913.1L830.0 904.8Z" fill="#0A6CE0"/>
<path d="M823.2 916.7L832.5 916.7L827.9 908.4Z" fill="#0A6CE0"/>
<path d="M825.2 920.3L834.5 920.3L829.8 912.0Z" fill="#0A6CE0"/>
<path d="M824.0 923.9L833.3 923.9L828.7 915.6Z" fill="#0A6CE0"/>
<path d="M823.9 927.5L833.2 927.5L828.5 919.2Z" fill="#0A6CE0"/>
<path d="M826.0 931.1L835.3 931.1L830.7 922.8Z" fill="#0A6CE0"/>
<path d="M823.3 934.7L832.6 934.7L828.0 926.4Z" fill="#0A6CE0"/>
<path d="M823.0 938.3L832.3 938.3L827.7 930.0Z" fill="#0A6CE0"/>
<path d="M822.5 941.9L831.8 941.9L827.1 933.6Z" fill="#0A6CE0"/>
<path d="M819.5 945.5L828.8 945.5L824.2 937.2Z" fill="#0A6CE0"/>
<path d="M819.4 949.1L828.7 949.1L824.1 940.8Z" fill="#0A6CE0"/>
<path d="M821.6 952.7L830.9 952.7L826.2 944.4Z" fill="#0A6CE0"/>
<path d="M820.1 956.3L829.4 956.3L824.8 948.0Z" fill="#0A6CE0"/>
<path d="M821.0 959.9L830.3 959.9L825.7 951.6Z" fill="#0A6CE0"/>
<path d="M818.9 963.6L828.2 963.6L823.5 955.3Z" fill="#0A6CE0"/>
<path d="M819.9 967.2L829.2 967.2L824.6 958.9Z" fill="#0A6CE0"/>
<path d="M819.7 970.8L829.0 970.8L824.4 962.5Z" fill="#0A6CE0"/>
<path d="M821.7 974.4L831.0 974.4L826.4 966.1Z" fill="#0A6CE0"/>
<path d="M820.6 978.0L829.9 978.0L825.3 969.7Z" fill="#0A6CE0"/>
<path d="M824.7 981.6L834.0 981.6L829.3 973.3Z" fill="#0A6CE0"/>
<path d="M823.0 985.2L832.3 985.2L827.6 976.9Z" fill="#0A6CE0"/>
<path d="M826.6 988.8L835.9 988.8L831.2 980.5Z" fill="#0A6CE0"/>
<path d="M825.9 992.4L835.2 992.4L830.5 984.1Z" fill="#0A6CE0"/>
<path d="M828.2 996.0L837.5 996.0L832.8 987.7Z" fill="#0A6CE0"/>
<path d="M834.6 1004.4L843.9 1004.4L839.3 996.1Z" fill="#0A6CE0"/>
<path d="M839.6 1008.5L848.9 1008.5L844.3 1000.2Z" fill="#0A6CE0"/>
<path d="M843.8 1011.9L853.0 1011.9L848.4 1003.6Z" fill="#0A6CE0"/>
<path d="M850.9 1015.1L860.1 1015.1L855.5 1006.9Z" fill="#0A6CE0"/>
<path d="M861.4 1018.5L870.6 1018.5L866.0 1010.2Z" fill="#0A6CE0"/>
<path d="M868.1 1021.9L877.4 1021.9L872.7 1013.6Z" fill="#0A6CE0"/>
<path d="M1362.5 573.2L1371.9 573.2L1367.2 581.5Z" fill="#00AD66"/>
<path d="M1263.6 576.4L1273.0 576.4L1268.3 584.6Z" fill="#00AD66"/>
<path d="M1160.3 580.5L1169.7 580.5L1165.0 588.8Z" fill="#00AD66"/>
<path d="M1065.8 583.9L1075.1 583.9L1070.4 592.2Z" fill="#00AD66"/>
<path d="M1011.6 587.6L1020.9 587.6L1016.2 595.9Z" fill="#00AD66"/>
<path d="M971.1 591.6L980.4 591.6L975.8 599.9Z" fill="#00AD66"/>
<path d="M923.8 594.4L933.0 594.4L928.4 602.7Z" fill="#00AD66"/>
<path d="M895.4 597.9L904.6 597.9L900.0 606.2Z" fill="#00AD66"/>
<path d="M867.8 601.4L877.0 601.4L872.4 609.7Z" fill="#00AD66"/>
<path d="M849.1 604.5L858.4 604.5L853.8 612.8Z" fill="#00AD66"/>
<path d="M840.9 607.9L850.1 607.9L845.5 616.2Z" fill="#00AD66"/>
<path d="M835.4 612.0L844.6 612.0L840.0 620.3Z" fill="#00AD66"/>
<path d="M823.3 615.9L832.6 615.9L828.0 624.1Z" fill="#00AD66"/>
<path d="M822.1 619.5L831.4 619.5L826.8 627.8Z" fill="#00AD66"/>
<path d="M819.4 623.1L828.7 623.1L824.0 631.4Z" fill="#00AD66"/>
<path d="M819.6 626.7L828.9 626.7L824.2 635.0Z" fill="#00AD66"/>
<path d="M818.8 630.3L828.1 630.3L823.5 638.6Z" fill="#00AD66"/>
<path d="M816.6 633.9L825.9 633.9L821.3 642.2Z" fill="#00AD66"/>
<path d="M818.2 637.5L827.5 637.5L822.9 645.8Z" fill="#00AD66"/>
<path d="M824.4 641.1L833.7 641.1L829.0 649.4Z" fill="#00AD66"/>
<path d="M821.6 644.7L830.9 644.7L826.2 653.0Z" fill="#00AD66"/>
<path d="M821.3 648.3L830.6 648.3L825.9 656.6Z" fill="#00AD66"/>
<path d="M824.6 651.9L833.9 651.9L829.3 660.2Z" fill="#00AD66"/>
<path d="M822.0 655.5L831.3 655.5L826.7 663.8Z" fill="#00AD66"/>
<path d="M823.3 659.1L832.6 659.1L827.9 667.4Z" fill="#00AD66"/>
<path d="M820.9 662.7L830.2 662.7L825.5 671.0Z" fill="#00AD66"/>
<path d="M820.9 666.3L830.2 666.3L825.6 674.6Z" fill="#00AD66"/>
<path d="M818.4 669.9L827.7 669.9L823.0 678.2Z" fill="#00AD66"/>
<path d="M820.2 673.5L829.5 673.5L824.9 681.8Z" fill="#00AD66"/>
<path d="M820.4 677.1L829.7 677.1L825.0 685.4Z" fill="#00AD66"/>
<path d="M817.7 680.7L827.0 680.7L822.4 689.0Z" fill="#00AD66"/>
<path d="M818.0 684.3L827.3 684.3L822.6 692.6Z" fill="#00AD66"/>
<path d="M817.3 687.9L826.6 687.9L822.0 696.2Z" fill="#00AD66"/>
<path d="M814.3 691.5L823.6 691.5L819.0 699.8Z" fill="#00AD66"/>
<path d="M817.9 695.1L827.2 695.1L822.5 703.4Z" fill="#00AD66"/>
<path d="M817.4 698.7L826.7 698.7L822.1 707.0Z" fill="#00AD66"/>
<path d="M815.2 702.3L824.5 702.3L819.8 710.6Z" fill="#00AD66"/>
<path d="M812.9 706.0L822.2 706.0L817.5 714.3Z" fill="#00AD66"/>
<path d="M816.4 709.6L825.7 709.6L821.1 717.9Z" fill="#00AD66"/>
<path d="M815.0 713.2L824.3 713.2L819.6 721.5Z" fill="#00AD66"/>
<path d="M816.5 716.8L825.8 716.8L821.2 725.1Z" fill="#00AD66"/>
<path d="M818.0 720.4L827.3 720.4L822.7 728.7Z" fill="#00AD66"/>
<path d="M818.0 724.0L827.3 724.0L822.6 732.3Z" fill="#00AD66"/>
<path d="M819.3 727.6L828.6 727.6L824.0 735.9Z" fill="#00AD66"/>
<path d="M817.2 731.2L826.5 731.2L821.9 739.5Z" fill="#00AD66"/>
<path d="M818.6 734.8L827.9 734.8L823.3 743.1Z" fill="#00AD66"/>
<path d="M816.1 738.4L825.4 738.4L820.7 746.7Z" fill="#00AD66"/>
<path d="M817.4 742.0L826.7 742.0L822.0 750.3Z" fill="#00AD66"/>
<path d="M816.5 745.6L825.8 745.6L821.2 753.9Z" fill="#00AD66"/>
<path d="M814.3 749.2L823.6 749.2L819.0 757.5Z" fill="#00AD66"/>
<path d="M815.9 752.8L825.2 752.8L820.6 761.1Z" fill="#00AD66"/>
<path d="M815.2 756.4L824.5 756.4L819.9 764.7Z" fill="#00AD66"/>
<path d="M817.1 760.0L826.4 760.0L821.7 768.3Z" fill="#00AD66"/>
<path d="M815.1 763.6L824.4 763.6L819.7 771.9Z" fill="#00AD66"/>
<path d="M818.2 767.2L827.5 767.2L822.9 775.5Z" fill="#00AD66"/>
<path d="M818.9 770.8L828.2 770.8L823.6 779.1Z" fill="#00AD66"/>
<path d="M821.3 774.4L830.6 774.4L826.0 782.7Z" fill="#00AD66"/>
<path d="M822.3 778.0L831.6 778.0L826.9 786.3Z" fill="#00AD66"/>
<path d="M820.0 781.6L829.3 781.6L824.7 789.9Z" fill="#00AD66"/>
<path d="M818.6 785.2L827.9 785.2L823.2 793.5Z" fill="#00AD66"/>
<path d="M816.9 788.8L826.2 788.8L821.6 797.1Z" fill="#00AD66"/>
<path d="M817.5 792.4L826.8 792.4L822.1 800.7Z" fill="#00AD66"/>
<path d="M815.5 796.1L824.8 796.1L820.1 804.4Z" fill="#00AD66"/>
<path d="M815.4 799.7L824.7 799.7L820.1 808.0Z" fill="#00AD66"/>
<path d="M812.9 803.3L822.2 803.3L817.6 811.6Z" fill="#00AD66"/>
<path d="M811.4 806.9L820.7 806.9L816.1 815.2Z" fill="#00AD66"/>
<path d="M808.7 810.5L818.0 810.5L813.3 818.8Z" fill="#00AD66"/>
<path d="M805.2 814.1L814.5 814.1L809.9 822.4Z" fill="#00AD66"/>
<path d="M809.2 817.7L818.5 817.7L813.8 826.0Z" fill="#00AD66"/>
<path d="M812.2 821.3L821.5 821.3L816.9 829.6Z" fill="#00AD66"/>
<path d="M813.9 824.9L823.2 824.9L818.5 833.2Z" fill="#00AD66"/>
<path d="M814.1 828.5L823.4 828.5L818.7 836.8Z" fill="#00AD66"/>
<path d="M814.9 832.1L824.2 832.1L819.6 840.4Z" fill="#00AD66"/>
<path d="M812.8 835.7L822.1 835.7L817.4 844.0Z" fill="#00AD66"/>
<path d="M815.3 839.3L824.6 839.3L819.9 847.6Z" fill="#00AD66"/>
<path d="M813.5 842.9L822.8 842.9L818.2 851.2Z" fill="#00AD66"/>
<path d="M811.7 846.5L821.0 846.5L816.4 854.8Z" fill="#00AD66"/>
<path d="M810.4 850.1L819.7 850.1L815.0 858.4Z" fill="#00AD66"/>
<path d="M813.7 853.7L823.0 853.7L818.3 862.0Z" fill="#00AD66"/>
<path d="M814.1 857.3L823.4 857.3L818.8 865.6Z" fill="#00AD66"/>
<path d="M809.8 860.9L819.1 860.9L814.4 869.2Z" fill="#00AD66"/>
<path d="M812.9 864.5L822.2 864.5L817.6 872.8Z" fill="#00AD66"/>
<path d="M810.9 868.1L820.2 868.1L815.6 876.4Z" fill="#00AD66"/>
<path d="M811.8 871.7L821.1 871.7L816.4 880.0Z" fill="#00AD66"/>
<path d="M817.3 875.3L826.6 875.3L822.0 883.6Z" fill="#00AD66"/>
<path d="M821.8 878.9L831.1 878.9L826.5 887.2Z" fill="#00AD66"/>
<path d="M822.7 882.5L832.0 882.5L827.3 890.8Z" fill="#00AD66"/>
<path d="M819.4 886.2L828.7 886.2L824.0 894.5Z" fill="#00AD66"/>
<path d="M822.7 889.8L832.0 889.8L827.4 898.1Z" fill="#00AD66"/>
<path d="M820.8 893.4L830.1 893.4L825.5 901.7Z" fill="#00AD66"/>
<path d="M820.7 897.0L830.0 897.0L825.3 905.3Z" fill="#00AD66"/>
<path d="M815.6 900.6L824.9 900.6L820.2 908.9Z" fill="#00AD66"/>
<path d="M817.1 904.2L826.4 904.2L821.8 912.5Z" fill="#00AD66"/>
<path d="M817.6 907.8L826.9 907.8L822.2 916.1Z" fill="#00AD66"/>
<path d="M815.4 911.4L824.7 911.4L820.0 919.7Z" fill="#00AD66"/>
<path d="M817.6 915.0L826.9 915.0L822.3 923.3Z" fill="#00AD66"/>
<path d="M814.5 918.6L823.8 918.6L819.1 926.9Z" fill="#00AD66"/>
<path d="M814.6 922.2L823.9 922.2L819.2 930.5Z" fill="#00AD66"/>
<path d="M818.1 925.8L827.4 925.8L822.8 934.1Z" fill="#00AD66"/>
<path d="M813.6 929.4L822.9 929.4L818.3 937.7Z" fill="#00AD66"/>
<path d="M811.5 933.0L820.8 933.0L816.1 941.3Z" fill="#00AD66"/>
<path d="M810.8 936.6L820.1 936.6L815.5 944.9Z" fill="#00AD66"/>
<path d="M811.8 940.2L821.1 940.2L816.4 948.5Z" fill="#00AD66"/>
<path d="M809.7 943.8L819.0 943.8L814.3 952.1Z" fill="#00AD66"/>
<path d="M809.1 947.4L818.4 947.4L813.8 955.7Z" fill="#00AD66"/>
<path d="M812.9 951.0L822.2 951.0L817.6 959.3Z" fill="#00AD66"/>
<path d="M810.4 954.6L819.7 954.6L815.0 962.9Z" fill="#00AD66"/>
<path d="M813.4 958.2L822.7 958.2L818.0 966.5Z" fill="#00AD66"/>
<path d="M813.1 961.8L822.4 961.8L817.7 970.1Z" fill="#00AD66"/>
<path d="M810.7 965.4L820.0 965.4L815.3 973.7Z" fill="#00AD66"/>
<path d="M811.1 969.0L820.4 969.0L815.7 977.3Z" fill="#00AD66"/>
<path d="M811.3 972.6L820.6 972.6L816.0 980.9Z" fill="#00AD66"/>
<path d="M811.9 976.3L821.2 976.3L816.6 984.6Z" fill="#00AD66"/>
<path d="M811.7 979.9L821.0 979.9L816.3 988.2Z" fill="#00AD66"/>
<path d="M811.5 983.5L820.8 983.5L816.2 991.8Z" fill="#00AD66"/>
<path d="M814.3 987.1L823.6 987.1L818.9 995.4Z" fill="#00AD66"/>
<path d="M819.4 990.7L828.7 990.7L824.1 999.0Z" fill="#00AD66"/>
<path d="M820.8 994.3L830.1 994.3L825.5 1002.6Z" fill="#00AD66"/>
<path d="M822.6 997.9L831.9 997.9L827.3 1006.2Z" fill="#00AD66"/>
<path d="M826.1 1001.5L835.4 1001.5L830.8 1009.8Z" fill="#00AD66"/>
<path d="M824.5 1005.1L833.8 1005.1L829.1 1013.4Z" fill="#00AD66"/>
<path d="M825.2 1008.7L834.5 1008.7L829.8 1017.0Z" fill="#00AD66"/>
<path d="M826.9 1012.3L836.2 1012.3L831.6 1020.6Z" fill="#00AD66"/>
<path d="M822.1 1015.9L831.4 1015.9L826.8 1024.2Z" fill="#00AD66"/>
<path d="M819.5 1019.5L828.8 1019.5L824.2 1027.8Z" fill="#00AD66"/>
<path d="M818.3 1023.1L827.6 1023.1L822.9 1031.4Z" fill="#00AD66"/>
<path d="M822.4 1026.7L831.7 1026.7L827.1 1035.0Z" fill="#00AD66"/>
<path d="M823.5 1030.3L832.8 1030.3L828.1 1038.6Z" fill="#00AD66"/>
<path d="M821.1 1033.9L830.4 1033.9L825.7 1042.2Z" fill="#00AD66"/>
<path d="M824.0 1037.5L833.3 1037.5L828.6 1045.8Z" fill="#00AD66"/>
<path d="M824.2 1041.1L833.5 1041.1L828.9 1049.4Z" fill="#00AD66"/>
<path d="M821.7 1044.7L831.0 1044.7L826.3 1053.0Z" fill="#00AD66"/>
<path d="M824.1 1048.3L833.4 1048.3L828.7 1056.6Z" fill="#00AD66"/>
<path d="M823.1 1051.9L832.4 1051.9L827.8 1060.2Z" fill="#00AD66"/>
<path d="M823.9 1055.5L833.2 1055.5L828.6 1063.8Z" fill="#00AD66"/>
<path d="M822.6 1059.1L831.9 1059.1L827.3 1067.4Z" fill="#00AD66"/>
<path d="M825.5 1062.7L834.8 1062.7L830.2 1071.0Z" fill="#00AD66"/>
<path d="M823.8 1066.4L833.1 1066.4L828.5 1074.7Z" fill="#00AD66"/>
<path d="M817.8 1070.0L827.1 1070.0L822.4 1078.3Z" fill="#00AD66"/>
<path d="M815.9 1073.6L825.2 1073.6L820.6 1081.9Z" fill="#00AD66"/>
<path d="M817.2 1077.2L826.5 1077.2L821.8 1085.5Z" fill="#00AD66"/>
<path d="M821.6 1080.8L830.9 1080.8L826.2 1089.1Z" fill="#00AD66"/>
<path d="M822.0 1084.4L831.3 1084.4L826.7 1092.7Z" fill="#00AD66"/>
<path d="M824.1 1088.0L833.4 1088.0L828.8 1096.3Z" fill="#00AD66"/>
<path d="M829.8 1094.1L839.0 1094.1L834.4 1102.5Z" fill="#00AD66"/>
<path d="M835.1 1098.0L844.4 1098.0L839.8 1106.4Z" fill="#00AD66"/>
<path d="M840.5 1101.0L849.8 1101.0L845.1 1109.4Z" fill="#00AD66"/>
<path d="M855.1 1105.6L864.4 1105.6L859.7 1114.0Z" fill="#00AD66"/>
<path d="M861.5 1108.7L870.8 1108.7L866.1 1117.0Z" fill="#00AD66"/>
<path d="M883.1 1112.5L892.4 1112.5L887.7 1120.9Z" fill="#00AD66"/>
<path d="M916.4 1116.3L925.6 1116.3L921.0 1124.7Z" fill="#00AD66"/>
<path d="M947.8 1119.4L957.0 1119.4L952.4 1127.8Z" fill="#00AD66"/>
<path d="M997.5 1124.0L1006.8 1124.0L1002.1 1132.4Z" fill="#00AD66"/>
<path d="M1062.6 1126.7L1072.0 1126.7L1067.3 1135.0Z" fill="#00AD66"/>
<path d="M1185.5 1130.6L1194.9 1130.6L1190.2 1139.0Z" fill="#00AD66"/>
<path d="M1306.8 1134.5L1316.2 1134.5L1311.5 1142.9Z" fill="#00AD66"/>
</g>
<rect x="212.8" y="1232.8" width="16.5" height="16.5" fill="#4F4F4F"/>
<circle cx="600.0" cy="1241.0" r="9.0" fill="#FE3C3C"/>
<path d="M905.2 1247.2L926.8 1247.2L916.0 1228.8Z" fill="#0A6CE0"/>
<path d="M1221.7 1234.8L1243.3 1234.8L1232.5 1253.2Z" fill="#00AD66"/>
<g style="font-family:'Liberation Serif','Times New Roman',serif;font-kerning:none" font-size="57" fill="#000">
<text x="283.5" y="1260.5">M100/63.5</text>
<text x="662" y="1260.5">S100/15</text>
<text x="978.4" y="1260.5">S150/15</text>
<text x="1295" y="1260.5">R100/15</text>
</g>
</svg></body></html>
